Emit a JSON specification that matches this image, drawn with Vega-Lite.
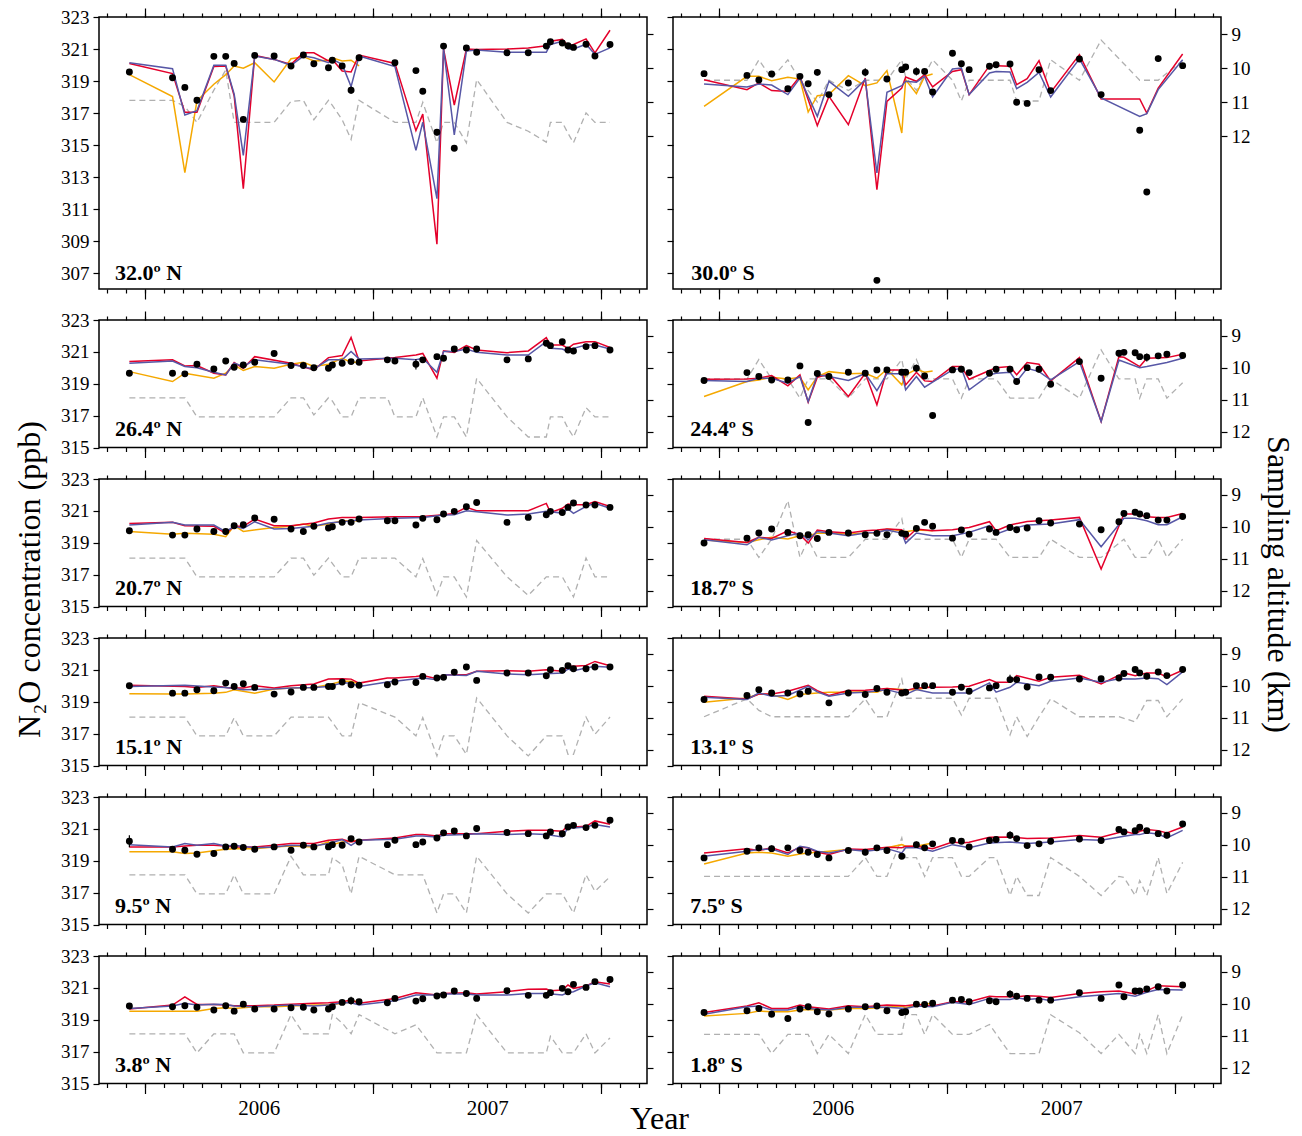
{
"$schema":"https://vega.github.io/schema/vega-lite/v6.json",
"padding":{"left":12,"top":6,"right":4,"bottom":2},
"columns":2,
"spacing":{"row":31,"column":26},
"bounds":"flush",
"config":{"view":{"stroke":"black","strokeWidth":1.5},"axis":{"labelFont":"Liberation Serif","labelFontSize":19,"labelColor":"black","tickColor":"black","tickWidth":1.2,"titleFont":"Liberation Serif","titleFontSize":32,"titleFontWeight":"normal","titleColor":"black"}},
"datasets":{
"n32":[
{"t":2005.933,"o":319.56,"b":320.14,"r":320.1,"g":319.4,"a":10.95},
{"t":2006.122,"o":319.2,"b":319.77,"r":319.46,"g":318.03,"a":10.95},
{"t":2006.176,"o":318.6,"b":316.87,"r":317.04,"g":313.27,"a":11.13},
{"t":2006.229,"o":317.8,"lo":317.6,"hi":318.0,"b":317.14,"r":317.04,"g":317.76,"a":11.6},
{"t":2006.303,"o":320.54,"b":319.98,"r":319.9,"g":318.8,"a":10.65},
{"t":2006.355,"o":320.54,"b":319.98,"r":319.94,"g":319.4,"a":10.06},
{"t":2006.392,"o":320.1,"b":318.18,"r":318.07,"g":319.94,"a":11.6},
{"t":2006.432,"o":316.6,"lo":316.4,"hi":316.8,"b":314.35,"r":312.27,"g":319.8,"a":11.6},
{"t":2006.482,"o":320.6,"b":320.56,"r":320.6,"g":320.14,"a":11.6},
{"t":2006.567,"o":320.56,"b":320.35,"r":320.35,"g":318.94,"a":11.6},
{"t":2006.641,"o":319.94,"b":319.98,"r":320.04,"g":320.39,"a":10.98},
{"t":2006.695,"o":320.62,"b":320.56,"r":320.76,"g":320.52,"a":10.95},
{"t":2006.741,"o":320.08,"b":320.45,"r":320.76,"g":320.25,"a":11.52},
{"t":2006.805,"o":319.83,"b":320.14,"r":320.25,"g":320.3,"a":10.95},
{"t":2006.822,"o":320.3,"b":320.35,"r":320.35,"g":320.45,"a":11.1},
{"t":2006.865,"o":319.94,"b":320.04,"r":319.63,"g":320.25,"a":11.52},
{"t":2006.904,"o":318.42,"lo":318.2,"hi":318.65,"b":318.65,"r":319.56,"g":320.3,"a":12.1},
{"t":2006.939,"o":320.45,"b":320.56,"r":320.62,"g":319.94,"a":10.95},
{"t":2007.096,"o":320.14,"b":319.9,"r":320.1,"a":11.6},
{"t":2007.188,"o":319.65,"b":314.66,"r":315.9,"a":11.6},
{"t":2007.218,"o":318.36,"b":316.42,"r":316.93,"a":11.01},
{"t":2007.28,"o":315.8,"lo":315.6,"hi":316.0,"b":311.65,"r":308.8,"a":12.2},
{"t":2007.309,"o":321.18,"b":321.0,"r":321.0,"a":11.6},
{"t":2007.356,"o":314.8,"b":315.63,"r":317.5,"a":11.6},
{"t":2007.409,"o":321.07,"b":320.87,"r":321.0,"a":12.2},
{"t":2007.454,"o":320.8,"lo":320.65,"hi":320.95,"b":320.93,"r":320.97,"a":10.34},
{"t":2007.587,"o":320.76,"b":320.8,"r":321.0,"a":11.6},
{"t":2007.68,"o":320.76,"b":320.8,"r":321.07,"a":11.86},
{"t":2007.759,"o":321.18,"b":320.8,"r":321.2,"a":12.18},
{"t":2007.777,"o":321.45,"b":321.28,"r":321.49,"a":11.6},
{"t":2007.829,"o":321.38,"b":321.49,"r":321.6,"a":11.6},
{"t":2007.854,"o":321.2,"b":321.0,"r":321.2,"a":11.92},
{"t":2007.878,"o":321.1,"b":321.0,"r":321.28,"a":12.2},
{"t":2007.933,"o":321.3,"b":321.3,"r":321.63,"a":11.32},
{"t":2007.972,"o":320.56,"b":320.66,"r":320.76,"a":11.6},
{"t":2008.038,"o":321.28,"b":321.07,"r":322.17,"a":11.6}
],
"s30":[
{"t":2005.936,"o":319.46,"b":318.81,"r":319.08,"g":317.42,"a":10.36},
{"t":2006.124,"o":319.35,"b":318.63,"r":318.46,"g":319.29,"a":10.36},
{"t":2006.176,"o":319.06,"b":318.81,"r":318.88,"g":319.29,"a":9.76},
{"t":2006.232,"o":319.44,"b":318.75,"r":318.4,"g":319.02,"a":10.31},
{"t":2006.303,"o":318.52,"b":318.15,"r":318.35,"g":319.23,"a":9.76},
{"t":2006.356,"o":319.29,"b":319.19,"r":319.29,"g":319.12,"a":10.36},
{"t":2006.392,"o":318.83,"g":317.06},
{"t":2006.432,"o":319.54,"lo":319.35,"hi":319.75,"b":316.79,"r":316.21,"g":318.08,"a":11.0},
{"t":2006.483,"o":318.15,"b":318.98,"r":318.04,"g":318.15,"a":10.36},
{"t":2006.568,"o":318.88,"b":318.04,"r":316.27,"g":319.33,"a":10.66},
{"t":2006.642,"o":319.54,"lo":319.3,"hi":319.8,"b":319.08,"r":319.19,"g":318.71,"a":10.36},
{"t":2006.693,"o":306.54,"b":313.25,"r":312.21,"g":318.88,"a":10.36},
{"t":2006.737,"o":319.12,"b":318.29,"r":317.73,"g":319.65,"a":10.36},
{"t":2006.802,"o":319.71,"b":318.71,"r":318.56,"g":315.75,"a":9.76},
{"t":2006.819,"o":319.88,"b":318.98,"r":319.25,"g":319.08,"a":10.27},
{"t":2006.866,"o":319.6,"lo":319.35,"hi":319.85,"b":318.92,"r":318.98,"g":318.21,"a":10.66},
{"t":2006.902,"o":319.6,"b":319.29,"r":319.4,"g":319.29},
{"t":2006.937,"o":318.31,"b":318.0,"r":318.63,"g":319.44,"a":9.76},
{"t":2007.024,"o":320.73,"b":319.75,"r":319.6,"a":10.36},
{"t":2007.063,"o":320.08,"b":319.81,"r":319.71,"a":10.97},
{"t":2007.097,"o":319.71,"b":318.15,"r":318.15,"a":10.36},
{"t":2007.186,"o":319.92,"b":319.5,"r":319.96,"a":10.36},
{"t":2007.215,"o":320.02,"b":319.6,"r":319.96,"a":10.36},
{"t":2007.276,"o":320.06,"b":319.56,"r":319.92,"a":10.36},
{"t":2007.305,"o":317.67,"b":318.52,"r":318.77,"a":10.97},
{"t":2007.351,"o":317.6,"b":318.92,"r":319.15,"a":10.97},
{"t":2007.403,"o":319.71,"b":319.54,"r":320.27,"a":10.97},
{"t":2007.454,"o":318.4,"b":318.0,"r":318.29,"a":9.76},
{"t":2007.58,"o":320.38,"b":320.38,"r":320.65,"a":10.36},
{"t":2007.675,"o":318.15,"b":317.94,"r":317.88,"a":9.18},
{"t":2007.844,"o":315.92,"lo":315.75,"hi":316.1,"b":316.79,"r":317.88,"a":10.36},
{"t":2007.875,"o":312.06,"b":316.96,"r":317.0},
{"t":2007.925,"o":320.4,"lo":320.2,"hi":320.6,"b":318.46,"r":318.56,"a":10.36},
{"t":2008.032,"o":319.96,"b":320.33,"r":320.69,"a":9.78}
],
"n26":[
{"t":2005.933,"o":319.66,"b":320.29,"r":320.39,"g":319.76,"a":10.94},
{"t":2006.122,"o":319.66,"b":320.43,"r":320.5,"g":319.14,"a":10.94},
{"t":2006.176,"o":319.62,"b":320.08,"r":320.12,"g":319.66,"a":10.94},
{"t":2006.229,"o":320.22,"b":320.0,"r":320.14,"a":11.54},
{"t":2006.303,"o":319.93,"b":319.72,"r":319.66,"g":319.35,"a":11.54},
{"t":2006.355,"o":320.43,"b":319.55,"r":319.55,"g":319.66,"a":11.54},
{"t":2006.392,"o":320.03,"b":320.29,"r":320.33,"g":320.18,"a":11.54},
{"t":2006.432,"o":320.18,"b":320.08,"r":319.97,"g":319.83,"a":11.54},
{"t":2006.482,"o":320.35,"b":320.5,"r":320.7,"g":320.08,"a":11.54},
{"t":2006.567,"o":320.9,"g":319.97,"a":11.54},
{"t":2006.641,"o":320.14,"b":320.22,"r":320.29,"g":320.22,"a":10.94},
{"t":2006.695,"o":320.14,"g":320.35,"a":10.94},
{"t":2006.741,"o":320.0,"b":319.93,"r":319.87,"g":320.08,"a":11.48},
{"t":2006.805,"o":319.97,"b":320.5,"r":320.64,"g":320.22,"a":10.94},
{"t":2006.822,"o":320.18,"a":11.04},
{"t":2006.865,"o":320.29,"b":320.5,"r":320.77,"g":320.6,"a":11.54},
{"t":2006.904,"o":320.39,"b":321.02,"r":321.91,"g":320.35,"a":11.54},
{"t":2006.939,"o":320.35,"b":320.56,"r":320.43,"g":320.35,"a":10.94},
{"t":2007.063,"o":320.5,"a":10.94},
{"t":2007.096,"o":320.43,"b":320.6,"r":320.64,"a":11.54},
{"t":2007.188,"o":320.22,"lo":319.9,"hi":320.55,"b":320.5,"r":320.8,"a":11.54},
{"t":2007.218,"o":320.5,"b":320.6,"r":320.9,"a":10.94},
{"t":2007.28,"o":320.7,"b":319.72,"r":319.35,"a":12.17},
{"t":2007.309,"o":320.6,"b":321.02,"r":321.06,"a":11.54},
{"t":2007.356,"o":321.18,"b":321.02,"r":320.97,"a":11.54},
{"t":2007.409,"o":321.12,"b":321.18,"r":321.39,"a":12.17},
{"t":2007.454,"o":321.18,"b":320.97,"r":321.12,"a":10.33},
{"t":2007.587,"o":320.5,"b":320.8,"r":320.95,"a":11.54},
{"t":2007.68,"o":320.56,"b":320.8,"r":321.06,"a":12.17},
{"t":2007.759,"o":321.54,"b":321.64,"r":321.89,"a":12.17},
{"t":2007.777,"o":321.39,"b":321.22,"r":321.43,"a":11.54},
{"t":2007.829,"o":321.64,"b":321.18,"r":321.43,"a":11.54},
{"t":2007.854,"o":321.12,"b":321.02,"r":321.22,"a":11.9},
{"t":2007.878,"o":321.06,"b":321.22,"r":321.48,"a":12.17},
{"t":2007.933,"o":321.33,"b":321.43,"r":321.64,"a":11.25},
{"t":2007.972,"o":321.39,"b":321.43,"r":321.64,"a":11.54},
{"t":2008.038,"o":321.12,"b":321.18,"r":321.27,"a":11.54}
],
"s24":[
{"t":2005.936,"o":319.2,"b":319.2,"r":319.28,"g":318.2,"a":10.35},
{"t":2006.124,"o":319.7,"b":319.14,"r":319.3,"g":319.14,"a":10.35},
{"t":2006.176,"o":319.45,"b":319.35,"r":319.35,"g":319.24,"a":9.74},
{"t":2006.232,"o":319.24,"b":319.35,"r":319.51,"g":319.41,"a":10.35},
{"t":2006.303,"o":319.24,"b":319.03,"r":318.87,"g":319.3,"a":10.35},
{"t":2006.356,"o":320.12,"b":319.45,"r":319.56,"g":319.41,"a":10.95},
{"t":2006.392,"o":316.57,"b":317.88,"r":317.84,"g":318.62,"a":10.35},
{"t":2006.432,"o":319.64,"b":319.56,"r":319.41,"g":319.45,"a":10.35},
{"t":2006.483,"o":319.45,"b":319.45,"r":319.6,"g":319.76,"a":10.35},
{"t":2006.568,"o":319.72,"b":319.2,"r":318.2,"g":319.62,"a":10.95},
{"t":2006.642,"o":319.66,"b":319.64,"r":319.66,"g":319.66,"a":10.35},
{"t":2006.693,"o":319.87,"b":318.57,"r":317.68,"g":319.35,"a":10.35},
{"t":2006.737,"o":319.87,"b":319.62,"r":319.87,"g":319.91,"a":10.35},
{"t":2006.802,"o":319.72,"b":319.62,"r":319.87,"g":318.93,"a":9.74},
{"t":2006.819,"o":319.72,"b":318.62,"r":318.93,"g":319.56,"a":10.35},
{"t":2006.866,"o":319.97,"lo":319.75,"hi":320.2,"b":319.45,"r":319.72,"g":319.91,"a":9.74},
{"t":2006.902,"o":319.49,"b":318.78,"r":319.18,"g":319.72,"a":10.35},
{"t":2006.937,"o":317.01,"b":319.1,"r":319.14,"g":319.8,"a":10.35},
{"t":2007.024,"o":319.87,"b":319.87,"r":320.08,"a":10.35},
{"t":2007.063,"o":319.91,"b":319.97,"r":320.08,"a":10.95},
{"t":2007.097,"o":319.7,"b":318.62,"r":319.28,"a":10.35},
{"t":2007.186,"o":319.66,"b":319.56,"r":319.83,"a":10.35},
{"t":2007.215,"o":319.91,"b":319.66,"r":320.01,"a":10.35},
{"t":2007.276,"o":319.91,"b":319.72,"r":320.08,"a":10.95},
{"t":2007.305,"o":319.14,"b":319.14,"r":319.56,"a":10.95},
{"t":2007.351,"o":320.01,"b":319.97,"r":320.33,"a":10.95},
{"t":2007.403,"o":319.91,"lo":319.7,"hi":320.1,"b":319.76,"r":320.22,"a":10.95},
{"t":2007.454,"o":318.97,"b":319.24,"r":319.18,"a":10.35},
{"t":2007.58,"o":320.39,"b":320.39,"r":320.64,"a":10.95},
{"t":2007.675,"o":319.35,"lo":319.15,"hi":319.55,"b":316.63,"r":316.63,"a":9.44},
{"t":2007.753,"o":320.91,"lo":320.7,"hi":321.1,"b":320.49,"r":320.7,"a":10.35},
{"t":2007.775,"o":320.97,"r":320.66},
{"t":2007.824,"o":320.95,"a":10.35},
{"t":2007.844,"o":320.7,"b":320.01,"r":320.08,"a":10.95},
{"t":2007.875,"o":320.66,"lo":320.4,"hi":320.9,"b":320.08,"r":320.6,"a":10.35},
{"t":2007.925,"o":320.75,"a":10.35},
{"t":2007.963,"o":320.85,"b":320.33,"r":320.64,"a":10.95},
{"t":2008.032,"o":320.77,"b":320.6,"r":320.85,"a":10.47}
],
"n20":[
{"t":2005.933,"o":319.75,"b":320.11,"r":320.21,"g":319.71,"a":10.98},
{"t":2006.122,"o":319.48,"b":320.28,"r":320.28,"g":319.54,"a":10.98},
{"t":2006.176,"o":319.48,"b":320.11,"r":320.07,"g":319.59,"a":10.98},
{"t":2006.229,"o":319.86,"a":11.57},
{"t":2006.303,"o":319.71,"b":320.11,"r":320.03,"g":319.54,"a":11.57},
{"t":2006.355,"o":319.71,"b":319.69,"r":319.59,"g":319.38,"a":11.57},
{"t":2006.392,"o":320.07,"b":320.03,"r":320.03,"g":320.07,"a":11.57},
{"t":2006.432,"o":320.13,"b":319.9,"r":320.03,"g":319.71,"a":11.57},
{"t":2006.482,"o":320.55,"b":320.32,"r":320.49,"a":11.57},
{"t":2006.567,"o":320.47,"b":319.86,"r":320.07,"g":319.96,"a":11.57},
{"t":2006.641,"o":319.86,"b":319.9,"r":320.07,"g":320.03,"a":10.98},
{"t":2006.695,"o":319.71,"g":320.17,"a":10.98},
{"t":2006.741,"o":320.03,"b":320.03,"r":320.24,"g":320.03,"a":11.52},
{"t":2006.805,"o":319.92,"b":320.24,"r":320.49,"g":320.17,"a":10.98},
{"t":2006.822,"o":320.0},
{"t":2006.865,"o":320.28,"b":320.32,"r":320.59,"g":320.38,"a":11.57},
{"t":2006.904,"o":320.28,"a":11.57},
{"t":2006.939,"o":320.49,"b":320.42,"r":320.59,"g":320.38,"a":10.98},
{"t":2007.063,"o":320.38,"a":10.98},
{"t":2007.096,"o":320.38,"b":320.53,"r":320.63,"a":10.98},
{"t":2007.188,"o":320.11,"a":11.57},
{"t":2007.218,"o":320.53,"b":320.59,"r":320.65,"a":11.0},
{"t":2007.28,"o":320.44,"a":12.15},
{"t":2007.309,"o":320.8,"b":320.74,"r":320.76,"a":11.57},
{"t":2007.356,"o":320.97,"b":320.76,"r":320.84,"a":11.57},
{"t":2007.409,"o":321.26,"b":321.01,"r":321.22,"a":12.2},
{"t":2007.454,"o":321.53,"b":320.95,"r":321.01,"a":10.43},
{"t":2007.587,"o":320.28,"b":320.74,"r":321.01,"a":11.57},
{"t":2007.68,"o":320.59,"b":320.8,"r":321.01,"a":12.15},
{"t":2007.759,"o":320.76,"b":320.97,"r":321.47,"a":11.57},
{"t":2007.777,"o":320.97,"r":320.9},
{"t":2007.829,"o":320.9,"b":320.86,"r":321.16,"a":11.57},
{"t":2007.854,"o":321.22,"b":321.12,"r":321.43},
{"t":2007.878,"o":321.49,"b":320.84,"r":321.39,"a":12.2},
{"t":2007.933,"o":321.37,"b":321.28,"r":321.39,"a":10.98},
{"t":2007.972,"o":321.37,"b":321.47,"r":321.58,"a":11.57},
{"t":2008.038,"o":321.22,"b":321.16,"r":321.28,"a":11.57}
],
"s18":[
{"t":2005.936,"o":318.98,"b":319.19,"r":319.27,"g":319.17,"a":10.39},
{"t":2006.124,"o":319.29,"b":318.87,"r":319.02,"g":319.02,"a":10.39},
{"t":2006.176,"o":319.61,"b":319.34,"r":319.34,"g":319.19,"a":10.96},
{"t":2006.232,"o":319.86,"b":319.17,"r":319.27,"g":319.34,"a":10.39},
{"t":2006.303,"o":319.65,"b":319.44,"r":319.75,"g":319.23,"a":9.18},
{"t":2006.356,"o":319.44,"b":319.61,"r":319.5,"g":319.44,"a":10.96},
{"t":2006.392,"o":319.5,"b":319.19,"r":318.98,"g":319.44,"a":10.39},
{"t":2006.432,"o":319.27,"b":319.71,"r":319.8,"g":319.59,"a":10.96},
{"t":2006.483,"o":319.65,"b":319.61,"r":319.69,"g":319.61,"a":10.96},
{"t":2006.568,"o":319.61,"b":319.44,"r":319.61,"g":319.54,"a":10.96},
{"t":2006.642,"o":319.5,"lo":319.35,"hi":319.65,"b":319.61,"r":319.75,"g":319.61,"a":10.39},
{"t":2006.693,"o":319.59,"lo":319.45,"hi":319.75,"b":319.65,"r":319.8,"g":319.61,"a":10.39},
{"t":2006.737,"o":319.5,"b":319.8,"r":319.86,"g":319.86,"a":10.39},
{"t":2006.802,"o":319.59,"b":319.61,"r":319.82,"g":319.75,"a":9.74},
{"t":2006.819,"o":319.54,"b":318.98,"r":319.23,"g":319.69,"a":10.39},
{"t":2006.866,"o":319.9,"lo":319.7,"hi":320.1,"b":319.61,"r":319.86,"g":319.8,"a":10.39},
{"t":2006.902,"o":320.28},
{"t":2006.937,"o":320.03,"b":319.44,"r":319.75,"g":319.75,"a":10.39},
{"t":2007.024,"o":319.29,"b":319.44,"r":319.82,"a":10.39},
{"t":2007.063,"o":319.8,"a":10.96},
{"t":2007.097,"o":319.54,"b":319.65,"r":319.96,"a":10.39},
{"t":2007.186,"o":319.86,"b":320.07,"r":320.32,"a":10.39},
{"t":2007.215,"o":319.65,"b":319.54,"r":319.75,"a":10.39},
{"t":2007.276,"o":319.96,"b":319.86,"r":320.11,"a":10.96},
{"t":2007.305,"o":319.82},
{"t":2007.351,"o":319.92,"b":320.11,"r":320.34,"a":10.96},
{"t":2007.403,"o":320.38,"a":10.96},
{"t":2007.454,"o":320.24,"b":320.17,"r":320.42,"a":10.39},
{"t":2007.58,"o":320.17,"b":320.45,"r":320.59,"a":10.96},
{"t":2007.675,"o":319.82,"b":318.75,"r":317.35,"a":10.96},
{"t":2007.753,"o":320.32},
{"t":2007.775,"o":320.84,"b":320.53,"r":320.8,"a":10.39},
{"t":2007.824,"o":320.91,"b":320.53,"r":320.8,"a":10.96},
{"t":2007.844,"o":320.8},
{"t":2007.875,"o":320.7,"b":320.38,"r":320.63,"a":10.96},
{"t":2007.925,"o":320.42,"b":320.13,"r":320.59,"a":10.39},
{"t":2007.963,"o":320.42,"b":320.13,"r":320.59,"a":10.96},
{"t":2008.032,"o":320.65,"b":320.63,"r":320.84,"a":10.39}
],
"n15":[
{"t":2005.933,"o":320.0,"b":319.96,"r":320.03,"g":319.5,"a":10.98},
{"t":2006.122,"o":319.54,"g":319.48,"a":10.98},
{"t":2006.176,"o":319.54,"b":320.03,"r":319.96,"g":319.48,"a":10.98},
{"t":2006.229,"o":319.75,"r":319.9,"a":11.57},
{"t":2006.303,"o":319.69,"b":319.92,"r":320.0,"g":319.54,"a":11.57},
{"t":2006.355,"o":320.17,"b":319.9,"r":319.9,"g":319.59,"a":11.57},
{"t":2006.392,"o":319.96,"r":319.86,"g":319.75,"a":11.0},
{"t":2006.432,"o":320.13,"b":319.75,"r":319.86,"a":11.57},
{"t":2006.482,"o":319.9,"r":320.0,"g":319.54,"a":11.57},
{"t":2006.567,"o":319.48,"b":319.8,"r":319.86,"g":319.8,"a":11.57},
{"t":2006.641,"o":319.61,"b":319.86,"r":320.0,"g":319.86,"a":10.98},
{"t":2006.695,"o":319.9,"a":10.98},
{"t":2006.741,"o":319.9,"b":319.9,"r":320.11,"g":319.9,"a":10.98},
{"t":2006.805,"o":319.96,"b":319.96,"r":320.42,"g":320.07,"a":10.98},
{"t":2006.822,"o":319.96},
{"t":2006.865,"o":320.24,"b":320.17,"r":320.44,"g":320.28,"a":11.57},
{"t":2006.904,"o":320.07,"b":320.17,"r":320.42,"g":320.28,"a":11.57},
{"t":2006.939,"o":320.03,"b":319.96,"r":320.17,"g":320.11,"a":10.53},
{"t":2007.063,"o":320.07,"b":320.24,"r":320.49},
{"t":2007.096,"o":320.24,"b":320.28,"r":320.49,"a":10.98},
{"t":2007.188,"o":320.21,"b":320.44,"r":320.59,"a":11.57},
{"t":2007.218,"o":320.59,"b":320.49,"r":320.65,"a":11.0},
{"t":2007.28,"o":320.49,"b":320.38,"r":320.44,"a":12.2},
{"t":2007.309,"o":320.53,"b":320.7,"r":320.7,"a":11.57},
{"t":2007.356,"o":320.86,"a":11.57},
{"t":2007.409,"o":321.18,"b":320.65,"r":320.7,"a":12.15},
{"t":2007.454,"o":320.34,"lo":320.2,"hi":320.5,"b":320.91,"r":320.91,"a":10.38},
{"t":2007.587,"o":320.8,"b":320.74,"r":320.95,"a":11.57},
{"t":2007.68,"o":320.8,"b":320.7,"r":320.91,"a":12.2},
{"t":2007.759,"o":320.63,"b":320.76,"r":321.01,"a":11.57},
{"t":2007.777,"o":321.01},
{"t":2007.829,"o":320.97,"b":320.8,"r":320.91,"a":11.57},
{"t":2007.854,"o":321.26,"b":321.05,"r":321.22,"a":12.15},
{"t":2007.878,"o":321.07,"b":320.95,"r":321.22,"a":12.15},
{"t":2007.933,"o":321.07,"b":321.12,"r":321.28,"a":10.98},
{"t":2007.972,"o":321.18,"b":321.22,"r":321.53,"a":11.52},
{"t":2008.038,"o":321.18,"b":321.16,"r":321.26,"a":10.98}
],
"s13":[
{"t":2005.936,"o":319.14,"b":319.28,"r":319.35,"g":318.97,"a":10.97},
{"t":2006.124,"o":319.39,"b":319.14,"r":319.18,"g":319.24,"a":10.41},
{"t":2006.176,"o":319.76,"b":319.55,"r":319.49,"g":319.49,"a":10.77},
{"t":2006.232,"o":319.55,"b":319.35,"r":319.49,"g":319.45,"a":10.97},
{"t":2006.303,"o":319.55,"b":319.39,"r":319.66,"g":319.14,"a":10.97},
{"t":2006.356,"o":319.49,"g":319.45},
{"t":2006.392,"o":319.66,"b":319.97,"r":320.03,"a":10.97},
{"t":2006.432,"b":319.62,"r":319.7,"g":319.55},
{"t":2006.483,"o":318.93,"b":319.35,"r":319.39,"g":319.6,"a":10.97},
{"t":2006.568,"o":319.55,"b":319.55,"r":319.7,"g":319.6,"a":10.97},
{"t":2006.642,"o":319.45,"b":319.6,"r":319.72,"g":319.62,"a":10.41},
{"t":2006.693,"o":319.83,"g":319.6,"a":10.97},
{"t":2006.737,"o":319.6,"b":319.76,"r":319.83,"g":319.83,"a":10.97},
{"t":2006.802,"o":319.55,"a":9.79},
{"t":2006.819,"o":319.6,"b":319.45,"r":319.7,"g":319.76,"a":10.39},
{"t":2006.866,"o":320.01,"b":319.76,"r":319.87,"g":319.76,"a":10.39},
{"t":2006.902,"o":320.01},
{"t":2006.937,"o":320.01,"b":319.55,"r":319.91,"g":319.97,"a":10.39},
{"t":2007.024,"o":319.6,"b":319.55,"r":319.93,"a":10.39},
{"t":2007.063,"o":319.91,"b":319.55,"a":10.92},
{"t":2007.097,"o":319.66,"b":319.55,"r":319.97,"a":10.39},
{"t":2007.186,"o":319.87,"b":320.18,"r":320.39,"a":10.39},
{"t":2007.215,"o":320.01,"b":319.6,"r":320.22,"a":10.39},
{"t":2007.276,"o":320.39,"lo":320.2,"hi":320.7,"b":319.91,"r":320.22,"a":11.54},
{"t":2007.305,"o":320.39,"b":320.22,"r":320.64,"a":10.97},
{"t":2007.351,"o":319.93,"a":11.59},
{"t":2007.403,"o":320.56,"b":320.01,"r":320.29,"a":10.97},
{"t":2007.454,"o":320.54,"b":320.29,"r":320.54,"a":10.41},
{"t":2007.58,"o":320.43,"b":320.49,"r":320.66,"a":10.97},
{"t":2007.675,"o":320.45,"b":320.22,"r":320.12,"a":10.97},
{"t":2007.753,"o":320.49,"b":320.45,"a":10.97},
{"t":2007.775,"o":320.77,"r":320.81},
{"t":2007.824,"o":321.02,"b":320.43,"r":320.64,"a":11.13},
{"t":2007.844,"o":320.81},
{"t":2007.875,"o":320.6,"b":320.49,"r":320.81,"a":10.46},
{"t":2007.925,"o":320.87,"b":320.45,"r":320.81,"a":10.46},
{"t":2007.963,"o":320.64,"b":320.08,"r":320.54,"a":10.97},
{"t":2008.032,"o":321.02,"b":320.87,"r":320.98,"a":10.41}
],
"n9":[
{"t":2005.933,"o":320.22,"lo":319.85,"hi":320.6,"b":320.01,"r":319.87,"g":319.56,"a":10.94},
{"t":2006.122,"o":319.72,"b":319.87,"r":319.87,"g":319.56,"a":10.94},
{"t":2006.176,"o":319.66,"lo":319.45,"hi":319.85,"b":320.08,"r":319.93,"g":319.45,"a":10.94},
{"t":2006.229,"o":319.41,"lo":319.25,"hi":319.6,"b":319.97,"r":319.97,"g":319.49,"a":11.54},
{"t":2006.303,"o":319.45,"b":320.08,"r":319.97,"g":319.62,"a":11.54},
{"t":2006.355,"o":319.87,"b":319.93,"r":319.93,"g":319.72,"a":11.54},
{"t":2006.392,"o":319.91,"b":319.97,"r":319.87,"g":319.76,"a":10.94},
{"t":2006.432,"o":319.83,"r":319.87,"a":11.54},
{"t":2006.482,"o":319.72,"b":319.81,"r":319.87,"g":319.76,"a":11.54},
{"t":2006.567,"o":319.87,"b":319.87,"r":319.97,"g":319.87,"a":11.54},
{"t":2006.641,"o":319.66,"b":319.97,"r":320.08,"g":319.93,"a":10.36},
{"t":2006.695,"o":319.97,"a":10.94},
{"t":2006.741,"o":319.87,"b":319.93,"r":320.08,"g":319.87,"a":10.94},
{"t":2006.805,"o":319.87,"b":320.08,"r":320.29,"g":320.18,"a":10.94},
{"t":2006.822,"o":320.01,"g":320.01,"a":10.4},
{"t":2006.865,"o":319.97,"lo":319.8,"hi":320.15,"b":320.33,"r":320.35,"g":320.18,"a":10.63},
{"t":2006.904,"o":320.39,"b":319.97,"r":320.18,"g":320.22,"a":11.54},
{"t":2006.939,"o":320.18,"b":320.29,"r":320.29,"g":320.29,"a":10.36},
{"t":2007.063,"o":320.01},
{"t":2007.096,"o":320.29,"b":320.35,"r":320.43,"a":10.94},
{"t":2007.188,"o":320.01,"b":320.56,"r":320.64,"a":10.94},
{"t":2007.218,"o":320.18,"b":320.56,"r":320.64,"a":10.94},
{"t":2007.28,"o":320.43,"b":320.49,"r":320.56,"a":12.14},
{"t":2007.309,"o":320.75,"b":320.6,"r":320.7,"a":11.54},
{"t":2007.356,"o":320.87,"a":11.54},
{"t":2007.409,"o":320.56,"b":320.64,"r":320.7,"a":12.14},
{"t":2007.454,"o":321.02,"b":320.7,"r":320.7,"a":10.36},
{"t":2007.587,"o":320.77,"b":320.64,"r":320.85,"a":11.54},
{"t":2007.68,"o":320.7,"b":320.7,"r":320.91,"a":12.14},
{"t":2007.759,"o":320.56,"b":320.64,"r":320.91,"a":11.54},
{"t":2007.777,"o":320.81},
{"t":2007.829,"o":320.7,"b":320.49,"r":320.85,"a":11.54},
{"t":2007.854,"o":321.12,"b":321.06,"r":321.22},
{"t":2007.878,"o":321.22,"b":321.06,"r":321.12,"a":12.14},
{"t":2007.933,"o":321.08,"lo":320.9,"hi":321.2,"b":321.12,"r":321.16,"a":10.94},
{"t":2007.972,"o":321.22,"b":321.27,"r":321.5,"a":11.46},
{"t":2008.038,"o":321.54,"b":321.12,"r":321.29,"a":11.0}
],
"s7":[
{"t":2005.936,"o":319.18,"b":319.28,"r":319.49,"g":318.8,"a":10.99},
{"t":2006.124,"o":319.6,"b":319.6,"r":319.76,"g":319.49,"a":10.99},
{"t":2006.176,"o":319.81,"b":319.7,"r":319.64,"g":319.53},
{"t":2006.232,"o":319.76,"lo":319.6,"hi":319.95,"b":319.74,"r":319.81,"g":319.49},
{"t":2006.303,"o":319.81,"b":319.39,"r":319.49,"g":319.28,"a":10.99},
{"t":2006.356,"o":319.64,"b":319.91,"r":319.85,"g":319.43},
{"t":2006.392,"o":319.53,"b":319.81,"r":319.81,"g":319.49},
{"t":2006.432,"o":319.39,"b":319.6,"r":319.53,"g":319.53},
{"t":2006.483,"o":319.18,"b":319.49,"r":319.39,"g":319.6,"a":10.99},
{"t":2006.568,"o":319.64,"b":319.7,"r":319.74,"g":319.7,"a":10.99},
{"t":2006.642,"o":319.53,"lo":319.35,"hi":319.7,"b":319.6,"r":319.7,"g":319.64,"a":10.4},
{"t":2006.693,"o":319.81,"g":319.7,"a":10.99},
{"t":2006.737,"o":319.64,"b":319.76,"r":319.85,"g":319.81,"a":10.99},
{"t":2006.802,"o":319.28,"b":319.49,"r":319.81,"g":320.01,"a":9.78},
{"t":2006.819,"b":319.81,"r":319.91,"g":319.91,"a":10.4},
{"t":2006.866,"o":320.01,"lo":319.85,"hi":320.2,"b":319.81,"r":319.91,"g":319.91,"a":10.4},
{"t":2006.902,"o":319.81,"a":10.99},
{"t":2006.937,"o":320.06,"b":319.6,"r":319.76,"g":320.12,"a":10.4},
{"t":2007.024,"o":320.27,"b":320.01,"r":320.18,"a":10.4},
{"t":2007.063,"o":320.22,"b":319.91,"r":320.12,"a":10.99},
{"t":2007.097,"o":319.87,"b":319.81,"r":320.16,"a":10.99},
{"t":2007.186,"o":320.27,"b":320.12,"r":320.47,"a":10.4},
{"t":2007.215,"o":320.33,"a":10.4},
{"t":2007.276,"o":320.6,"lo":320.4,"hi":320.85,"b":320.18,"r":320.49,"a":11.59},
{"t":2007.305,"o":320.39,"a":10.99},
{"t":2007.351,"o":319.95,"b":320.08,"r":320.39,"a":11.59},
{"t":2007.403,"o":320.06,"a":11.59},
{"t":2007.454,"o":320.22,"b":320.18,"r":320.43,"a":10.4},
{"t":2007.58,"o":320.37,"b":320.33,"r":320.58,"a":10.99},
{"t":2007.675,"o":320.27,"b":320.29,"r":320.47,"a":11.59},
{"t":2007.753,"o":320.96,"a":10.99},
{"t":2007.775,"o":320.81,"b":320.54,"r":320.85,"a":11.02},
{"t":2007.824,"o":320.89,"b":320.64,"r":320.68,"a":11.59},
{"t":2007.844,"o":321.1,"b":320.64,"r":320.85,"a":11.12},
{"t":2007.875,"o":320.89,"b":320.75,"r":320.96,"a":11.59},
{"t":2007.925,"o":320.7,"b":320.68,"r":320.89,"a":10.4},
{"t":2007.963,"o":320.6,"b":320.43,"r":320.75,"a":11.53},
{"t":2008.032,"o":321.31,"b":320.91,"r":321.12,"a":10.55}
],
"n3":[
{"t":2005.933,"o":319.86,"b":319.71,"r":319.67,"g":319.54,"a":10.94},
{"t":2006.122,"o":319.82,"b":319.86,"r":319.92,"g":319.54,"a":10.94},
{"t":2006.176,"o":319.88,"b":320.03,"r":320.44,"a":10.94},
{"t":2006.229,"o":319.78,"b":319.92,"r":319.96,"g":319.54,"a":11.54},
{"t":2006.303,"o":319.61,"b":319.98,"r":319.96,"g":319.71,"a":10.94},
{"t":2006.355,"o":319.88,"b":319.96,"r":319.92,"g":319.75,"a":10.94},
{"t":2006.392,"o":319.54,"b":319.86,"r":319.88,"g":319.71,"a":10.94},
{"t":2006.432,"o":319.98,"a":11.54},
{"t":2006.482,"o":319.67,"b":319.82,"r":319.88,"g":319.82,"a":11.54},
{"t":2006.567,"o":319.67,"b":319.88,"r":319.92,"g":319.82,"a":11.54},
{"t":2006.641,"o":319.75,"b":319.92,"r":319.98,"g":319.86,"a":10.34},
{"t":2006.695,"o":319.78,"a":10.94},
{"t":2006.741,"o":319.61,"b":319.86,"r":320.03,"g":319.92,"a":10.94},
{"t":2006.805,"o":319.67,"b":319.92,"r":320.07,"g":319.92,"a":10.94},
{"t":2006.822,"o":319.82,"a":10.34},
{"t":2006.865,"o":320.09,"b":320.07,"r":320.13,"g":320.03,"a":10.6},
{"t":2006.904,"o":320.19,"lo":319.95,"hi":320.45,"b":320.07,"r":320.24,"g":320.13,"a":10.94},
{"t":2006.939,"o":320.13,"b":319.92,"r":320.03,"g":320.19,"a":10.34},
{"t":2007.063,"o":320.07},
{"t":2007.096,"o":320.34,"b":320.19,"r":320.34,"a":10.94},
{"t":2007.188,"o":320.17,"b":320.55,"r":320.7,"a":10.66},
{"t":2007.218,"o":320.32,"b":320.55,"r":320.65,"a":10.94},
{"t":2007.28,"o":320.49,"b":320.55,"r":320.55,"a":11.54},
{"t":2007.309,"o":320.55,"b":320.61,"r":320.65,"a":11.54},
{"t":2007.356,"o":320.8,"a":11.54},
{"t":2007.409,"o":320.65,"b":320.61,"r":320.7,"a":11.54},
{"t":2007.454,"o":320.34,"b":320.55,"r":320.61,"a":10.34},
{"t":2007.587,"o":320.82,"b":320.55,"r":320.76,"a":11.54},
{"t":2007.68,"o":320.53,"b":320.65,"r":320.91,"a":11.54},
{"t":2007.759,"o":320.53,"b":320.65,"r":320.93,"a":11.54},
{"t":2007.777,"o":320.7,"r":320.82,"a":11.02},
{"t":2007.829,"o":320.97,"b":320.55,"r":320.86,"a":11.54},
{"t":2007.854,"o":320.76,"b":320.7,"r":321.18,"a":11.54},
{"t":2007.878,"o":321.22,"b":320.76,"r":320.97,"a":11.54},
{"t":2007.933,"o":321.03,"b":321.12,"r":321.12,"a":10.94},
{"t":2007.972,"o":321.39,"b":321.32,"r":321.39,"a":11.54},
{"t":2008.038,"o":321.53,"b":321.07,"r":321.24,"a":11.07}
],
"s1":[
{"t":2005.936,"o":319.46,"b":319.34,"r":319.46,"g":319.23,"a":10.96},
{"t":2006.124,"o":319.57,"b":319.82,"r":319.86,"g":319.4,"a":10.96},
{"t":2006.176,"o":319.71,"b":319.86,"r":320.07,"g":319.55,"a":10.96},
{"t":2006.232,"o":319.34,"b":319.61,"r":319.71,"g":319.5,"a":11.56},
{"t":2006.303,"o":319.08,"b":319.61,"r":319.71,"g":319.5,"a":10.96},
{"t":2006.356,"o":319.67,"b":319.82,"r":319.92,"g":319.61},
{"t":2006.392,"o":319.82,"b":319.71,"r":319.82,"g":319.65,"a":10.96},
{"t":2006.432,"o":319.5,"a":11.56},
{"t":2006.483,"o":319.36,"b":319.61,"r":319.67,"g":319.61,"a":10.96},
{"t":2006.568,"o":319.67,"b":319.78,"r":319.88,"g":319.71,"a":11.56},
{"t":2006.642,"o":319.82,"b":319.78,"r":319.82,"g":319.71,"a":10.34},
{"t":2006.693,"o":319.86,"a":10.96},
{"t":2006.737,"o":319.57,"b":319.78,"r":319.92,"g":319.78,"a":10.96},
{"t":2006.802,"o":319.46,"g":319.86,"a":10.96},
{"t":2006.819,"o":319.5,"b":319.71,"r":319.88,"g":319.76,"a":10.34},
{"t":2006.866,"o":319.98,"b":319.86,"r":319.96,"g":319.92,"a":10.34},
{"t":2006.902,"o":319.96,"lo":319.8,"hi":320.15,"a":10.96},
{"t":2006.937,"o":320.03,"b":319.82,"r":319.86,"g":320.03,"a":10.34},
{"t":2007.024,"o":320.23,"b":320.09,"r":320.13,"a":10.96},
{"t":2007.063,"o":320.27},
{"t":2007.097,"o":320.13,"b":319.96,"r":320.13,"a":10.96},
{"t":2007.186,"o":320.19,"b":320.34,"r":320.48,"a":10.65},
{"t":2007.215,"o":320.13,"b":320.27,"r":320.44},
{"t":2007.276,"o":320.61,"lo":320.4,"hi":320.85,"b":320.27,"r":320.44,"a":11.56},
{"t":2007.305,"o":320.48,"b":320.38,"r":320.44},
{"t":2007.351,"o":320.34,"b":320.27,"r":320.5,"a":11.56},
{"t":2007.403,"o":320.23,"b":320.34,"r":320.48,"a":11.56},
{"t":2007.454,"o":320.23,"b":320.19,"r":320.4,"a":10.34},
{"t":2007.58,"o":320.69,"b":320.44,"r":320.65,"a":10.91},
{"t":2007.675,"o":320.34,"b":320.55,"r":320.76,"a":11.56},
{"t":2007.753,"o":321.18,"b":320.65,"r":320.8,"a":10.96},
{"t":2007.775,"o":320.44},
{"t":2007.824,"o":320.8,"b":320.48,"r":320.61,"a":11.56},
{"t":2007.844,"o":320.8,"a":10.96},
{"t":2007.875,"o":320.93,"b":320.72,"r":320.82,"a":11.56},
{"t":2007.925,"o":321.07,"b":320.9,"r":321.14,"a":10.34},
{"t":2007.963,"o":320.8,"a":11.56},
{"t":2008.032,"o":321.18,"b":320.86,"r":321.07,"a":10.34}
]
},
"concat":[
{"width":548,"height":272,"data":{"name":"n32"},
"resolve":{"scale":{"y":"independent"},"axis":{"x":"independent","y":"independent"}},
"layer":[
{"transform":[{"filter":"isValid(datum.a)"}],"mark":{"type":"line","color":"#b0b0b0","strokeDash":[6,4],"strokeWidth":1.3},
"encoding":{"x":{"field":"t","type":"quantitative","scale":{"domain":[2005.8,2008.2],"nice":false,"zero":false},"axis":{"orient":"bottom","values":[2006,2007,2008],"tickSize":10,"labels":false,"domain":false,"grid":false,"title":null}},
"y":{"field":"a","type":"quantitative","scale":{"domain":[8.5,16.5],"reverse":true,"nice":false,"zero":false},"axis":{"orient":"right","values":[9,10,11,12],"tickSize":6,"labels":false,"domain":false,"grid":false,"title":null}}}},
{"transform":[{"filter":"isValid(datum.g)"}],"mark":{"type":"line","color":"#f5a800","strokeWidth":1.5},
"encoding":{"x":{"field":"t","type":"quantitative","scale":{"domain":[2005.8,2008.2],"nice":false,"zero":false},"axis":{"orient":"top","values":[2005.8333,2005.9167,2006,2006.0833,2006.1667,2006.25,2006.3333,2006.4167,2006.5,2006.5833,2006.6667,2006.75,2006.8333,2006.9167,2007,2007.0833,2007.1667,2007.25,2007.3333,2007.4167,2007.5,2007.5833,2007.6667,2007.75,2007.8333,2007.9167,2008,2008.0833,2008.1667],"tickSize":4,"labels":false,"domain":false,"grid":false,"title":null}},
"y":{"field":"g","type":"quantitative","scale":{"domain":[306,323],"nice":false,"zero":false},"axis":null}}},
{"transform":[{"filter":"isValid(datum.r)"}],"mark":{"type":"line","color":"#e4002b","strokeWidth":1.5},
"encoding":{"x":{"field":"t","type":"quantitative","scale":{"domain":[2005.8,2008.2],"nice":false,"zero":false},"axis":{"orient":"bottom","values":[2005.8333,2005.9167,2006,2006.0833,2006.1667,2006.25,2006.3333,2006.4167,2006.5,2006.5833,2006.6667,2006.75,2006.8333,2006.9167,2007,2007.0833,2007.1667,2007.25,2007.3333,2007.4167,2007.5,2007.5833,2007.6667,2007.75,2007.8333,2007.9167,2008,2008.0833,2008.1667],"tickSize":4,"labels":false,"domain":false,"grid":false,"title":null}},
"y":{"field":"r","type":"quantitative","scale":{"domain":[306,323],"nice":false,"zero":false},"axis":{"orient":"left","values":[307,309,311,313,315,317,319,321,323],"tickSize":6,"labels":true,"labelPadding":4,"domain":false,"grid":false,"title":null}}}},
{"transform":[{"filter":"isValid(datum.b)"}],"mark":{"type":"line","color":"#5757a6","strokeWidth":1.5},
"encoding":{"x":{"field":"t","type":"quantitative","scale":{"domain":[2005.8,2008.2],"nice":false,"zero":false},"axis":{"orient":"top","values":[2006,2007,2008],"tickSize":9,"labels":false,"domain":false,"grid":false,"title":null}},
"y":{"field":"b","type":"quantitative","scale":{"domain":[306,323],"nice":false,"zero":false},"axis":null}}},
{"transform":[{"filter":"isValid(datum.lo)"}],"mark":{"type":"rule","color":"black","strokeWidth":1.2},
"encoding":{"x":{"field":"t","type":"quantitative","scale":{"domain":[2005.8,2008.2],"nice":false,"zero":false},"axis":null},
"y":{"field":"lo","type":"quantitative","scale":{"domain":[306,323],"nice":false,"zero":false},"axis":null},"y2":{"field":"hi"}}},
{"transform":[{"filter":"isValid(datum.o)"}],"mark":{"type":"circle","color":"black","opacity":1,"size":48},
"encoding":{"x":{"field":"t","type":"quantitative","scale":{"domain":[2005.8,2008.2],"nice":false,"zero":false},"axis":null},
"y":{"field":"o","type":"quantitative","scale":{"domain":[306,323],"nice":false,"zero":false},"axis":null}}},
{"data":{"values":[{}]},"mark":{"type":"text","text":"32.0º N","font":"Liberation Serif","fontWeight":"bold","fontSize":22,"align":"left","baseline":"alphabetic","color":"black"},
"encoding":{"x":{"datum":2005.87,"type":"quantitative","scale":{"domain":[2005.8,2008.2],"nice":false,"zero":false},"axis":null},
"y":{"datum":306.55,"type":"quantitative","scale":{"domain":[306,323],"nice":false,"zero":false},"axis":null}}}
]},
{"width":548,"height":272,"data":{"name":"s30"},
"resolve":{"scale":{"y":"independent"},"axis":{"x":"independent","y":"independent"}},
"layer":[
{"transform":[{"filter":"isValid(datum.a)"}],"mark":{"type":"line","color":"#b0b0b0","strokeDash":[6,4],"strokeWidth":1.3},
"encoding":{"x":{"field":"t","type":"quantitative","scale":{"domain":[2005.8,2008.2],"nice":false,"zero":false},"axis":{"orient":"bottom","values":[2006,2007,2008],"tickSize":10,"labels":false,"domain":false,"grid":false,"title":null}},
"y":{"field":"a","type":"quantitative","scale":{"domain":[8.5,16.5],"reverse":true,"nice":false,"zero":false},"axis":{"orient":"right","values":[9,10,11,12],"tickSize":6,"labels":true,"labelPadding":4,"domain":false,"grid":false,"title":null}}}},
{"transform":[{"filter":"isValid(datum.g)"}],"mark":{"type":"line","color":"#f5a800","strokeWidth":1.5},
"encoding":{"x":{"field":"t","type":"quantitative","scale":{"domain":[2005.8,2008.2],"nice":false,"zero":false},"axis":{"orient":"top","values":[2005.8333,2005.9167,2006,2006.0833,2006.1667,2006.25,2006.3333,2006.4167,2006.5,2006.5833,2006.6667,2006.75,2006.8333,2006.9167,2007,2007.0833,2007.1667,2007.25,2007.3333,2007.4167,2007.5,2007.5833,2007.6667,2007.75,2007.8333,2007.9167,2008,2008.0833,2008.1667],"tickSize":4,"labels":false,"domain":false,"grid":false,"title":null}},
"y":{"field":"g","type":"quantitative","scale":{"domain":[306,323],"nice":false,"zero":false},"axis":null}}},
{"transform":[{"filter":"isValid(datum.r)"}],"mark":{"type":"line","color":"#e4002b","strokeWidth":1.5},
"encoding":{"x":{"field":"t","type":"quantitative","scale":{"domain":[2005.8,2008.2],"nice":false,"zero":false},"axis":{"orient":"bottom","values":[2005.8333,2005.9167,2006,2006.0833,2006.1667,2006.25,2006.3333,2006.4167,2006.5,2006.5833,2006.6667,2006.75,2006.8333,2006.9167,2007,2007.0833,2007.1667,2007.25,2007.3333,2007.4167,2007.5,2007.5833,2007.6667,2007.75,2007.8333,2007.9167,2008,2008.0833,2008.1667],"tickSize":4,"labels":false,"domain":false,"grid":false,"title":null}},
"y":{"field":"r","type":"quantitative","scale":{"domain":[306,323],"nice":false,"zero":false},"axis":{"orient":"left","values":[307,309,311,313,315,317,319,321,323],"tickSize":6,"labels":false,"domain":false,"grid":false,"title":null}}}},
{"transform":[{"filter":"isValid(datum.b)"}],"mark":{"type":"line","color":"#5757a6","strokeWidth":1.5},
"encoding":{"x":{"field":"t","type":"quantitative","scale":{"domain":[2005.8,2008.2],"nice":false,"zero":false},"axis":{"orient":"top","values":[2006,2007,2008],"tickSize":9,"labels":false,"domain":false,"grid":false,"title":null}},
"y":{"field":"b","type":"quantitative","scale":{"domain":[306,323],"nice":false,"zero":false},"axis":null}}},
{"transform":[{"filter":"isValid(datum.lo)"}],"mark":{"type":"rule","color":"black","strokeWidth":1.2},
"encoding":{"x":{"field":"t","type":"quantitative","scale":{"domain":[2005.8,2008.2],"nice":false,"zero":false},"axis":null},
"y":{"field":"lo","type":"quantitative","scale":{"domain":[306,323],"nice":false,"zero":false},"axis":null},"y2":{"field":"hi"}}},
{"transform":[{"filter":"isValid(datum.o)"}],"mark":{"type":"circle","color":"black","opacity":1,"size":48},
"encoding":{"x":{"field":"t","type":"quantitative","scale":{"domain":[2005.8,2008.2],"nice":false,"zero":false},"axis":null},
"y":{"field":"o","type":"quantitative","scale":{"domain":[306,323],"nice":false,"zero":false},"axis":null}}},
{"data":{"values":[{}]},"mark":{"type":"text","text":"30.0º S","font":"Liberation Serif","fontWeight":"bold","fontSize":22,"align":"left","baseline":"alphabetic","color":"black"},
"encoding":{"x":{"datum":2005.88,"type":"quantitative","scale":{"domain":[2005.8,2008.2],"nice":false,"zero":false},"axis":null},
"y":{"datum":306.55,"type":"quantitative","scale":{"domain":[306,323],"nice":false,"zero":false},"axis":null}}}
]},
{"width":548,"height":127.5,"data":{"name":"n26"},
"resolve":{"scale":{"y":"independent"},"axis":{"x":"independent","y":"independent"}},
"layer":[
{"transform":[{"filter":"isValid(datum.a)"}],"mark":{"type":"line","color":"#b0b0b0","strokeDash":[6,4],"strokeWidth":1.3},
"encoding":{"x":{"field":"t","type":"quantitative","scale":{"domain":[2005.8,2008.2],"nice":false,"zero":false},"axis":{"orient":"bottom","values":[2006,2007,2008],"tickSize":10,"labels":false,"domain":false,"grid":false,"title":null}},
"y":{"field":"a","type":"quantitative","scale":{"domain":[8.5,12.5],"reverse":true,"nice":false,"zero":false},"axis":{"orient":"right","values":[9,10,11,12],"tickSize":6,"labels":false,"domain":false,"grid":false,"title":null}}}},
{"transform":[{"filter":"isValid(datum.g)"}],"mark":{"type":"line","color":"#f5a800","strokeWidth":1.5},
"encoding":{"x":{"field":"t","type":"quantitative","scale":{"domain":[2005.8,2008.2],"nice":false,"zero":false},"axis":{"orient":"top","values":[2005.8333,2005.9167,2006,2006.0833,2006.1667,2006.25,2006.3333,2006.4167,2006.5,2006.5833,2006.6667,2006.75,2006.8333,2006.9167,2007,2007.0833,2007.1667,2007.25,2007.3333,2007.4167,2007.5,2007.5833,2007.6667,2007.75,2007.8333,2007.9167,2008,2008.0833,2008.1667],"tickSize":4,"labels":false,"domain":false,"grid":false,"title":null}},
"y":{"field":"g","type":"quantitative","scale":{"domain":[315,323],"nice":false,"zero":false},"axis":null}}},
{"transform":[{"filter":"isValid(datum.r)"}],"mark":{"type":"line","color":"#e4002b","strokeWidth":1.5},
"encoding":{"x":{"field":"t","type":"quantitative","scale":{"domain":[2005.8,2008.2],"nice":false,"zero":false},"axis":{"orient":"bottom","values":[2005.8333,2005.9167,2006,2006.0833,2006.1667,2006.25,2006.3333,2006.4167,2006.5,2006.5833,2006.6667,2006.75,2006.8333,2006.9167,2007,2007.0833,2007.1667,2007.25,2007.3333,2007.4167,2007.5,2007.5833,2007.6667,2007.75,2007.8333,2007.9167,2008,2008.0833,2008.1667],"tickSize":4,"labels":false,"domain":false,"grid":false,"title":null}},
"y":{"field":"r","type":"quantitative","scale":{"domain":[315,323],"nice":false,"zero":false},"axis":{"orient":"left","values":[315,317,319,321,323],"tickSize":6,"labels":true,"labelPadding":4,"domain":false,"grid":false,"title":null}}}},
{"transform":[{"filter":"isValid(datum.b)"}],"mark":{"type":"line","color":"#5757a6","strokeWidth":1.5},
"encoding":{"x":{"field":"t","type":"quantitative","scale":{"domain":[2005.8,2008.2],"nice":false,"zero":false},"axis":{"orient":"top","values":[2006,2007,2008],"tickSize":9,"labels":false,"domain":false,"grid":false,"title":null}},
"y":{"field":"b","type":"quantitative","scale":{"domain":[315,323],"nice":false,"zero":false},"axis":null}}},
{"transform":[{"filter":"isValid(datum.lo)"}],"mark":{"type":"rule","color":"black","strokeWidth":1.2},
"encoding":{"x":{"field":"t","type":"quantitative","scale":{"domain":[2005.8,2008.2],"nice":false,"zero":false},"axis":null},
"y":{"field":"lo","type":"quantitative","scale":{"domain":[315,323],"nice":false,"zero":false},"axis":null},"y2":{"field":"hi"}}},
{"transform":[{"filter":"isValid(datum.o)"}],"mark":{"type":"circle","color":"black","opacity":1,"size":48},
"encoding":{"x":{"field":"t","type":"quantitative","scale":{"domain":[2005.8,2008.2],"nice":false,"zero":false},"axis":null},
"y":{"field":"o","type":"quantitative","scale":{"domain":[315,323],"nice":false,"zero":false},"axis":null}}},
{"data":{"values":[{}]},"mark":{"type":"text","text":"26.4º N","font":"Liberation Serif","fontWeight":"bold","fontSize":22,"align":"left","baseline":"alphabetic","color":"black"},
"encoding":{"x":{"datum":2005.87,"type":"quantitative","scale":{"domain":[2005.8,2008.2],"nice":false,"zero":false},"axis":null},
"y":{"datum":315.72,"type":"quantitative","scale":{"domain":[315,323],"nice":false,"zero":false},"axis":null}}}
]},
{"width":548,"height":127.5,"data":{"name":"s24"},
"resolve":{"scale":{"y":"independent"},"axis":{"x":"independent","y":"independent"}},
"layer":[
{"transform":[{"filter":"isValid(datum.a)"}],"mark":{"type":"line","color":"#b0b0b0","strokeDash":[6,4],"strokeWidth":1.3},
"encoding":{"x":{"field":"t","type":"quantitative","scale":{"domain":[2005.8,2008.2],"nice":false,"zero":false},"axis":{"orient":"bottom","values":[2006,2007,2008],"tickSize":10,"labels":false,"domain":false,"grid":false,"title":null}},
"y":{"field":"a","type":"quantitative","scale":{"domain":[8.5,12.5],"reverse":true,"nice":false,"zero":false},"axis":{"orient":"right","values":[9,10,11,12],"tickSize":6,"labels":true,"labelPadding":4,"domain":false,"grid":false,"title":null}}}},
{"transform":[{"filter":"isValid(datum.g)"}],"mark":{"type":"line","color":"#f5a800","strokeWidth":1.5},
"encoding":{"x":{"field":"t","type":"quantitative","scale":{"domain":[2005.8,2008.2],"nice":false,"zero":false},"axis":{"orient":"top","values":[2005.8333,2005.9167,2006,2006.0833,2006.1667,2006.25,2006.3333,2006.4167,2006.5,2006.5833,2006.6667,2006.75,2006.8333,2006.9167,2007,2007.0833,2007.1667,2007.25,2007.3333,2007.4167,2007.5,2007.5833,2007.6667,2007.75,2007.8333,2007.9167,2008,2008.0833,2008.1667],"tickSize":4,"labels":false,"domain":false,"grid":false,"title":null}},
"y":{"field":"g","type":"quantitative","scale":{"domain":[315,323],"nice":false,"zero":false},"axis":null}}},
{"transform":[{"filter":"isValid(datum.r)"}],"mark":{"type":"line","color":"#e4002b","strokeWidth":1.5},
"encoding":{"x":{"field":"t","type":"quantitative","scale":{"domain":[2005.8,2008.2],"nice":false,"zero":false},"axis":{"orient":"bottom","values":[2005.8333,2005.9167,2006,2006.0833,2006.1667,2006.25,2006.3333,2006.4167,2006.5,2006.5833,2006.6667,2006.75,2006.8333,2006.9167,2007,2007.0833,2007.1667,2007.25,2007.3333,2007.4167,2007.5,2007.5833,2007.6667,2007.75,2007.8333,2007.9167,2008,2008.0833,2008.1667],"tickSize":4,"labels":false,"domain":false,"grid":false,"title":null}},
"y":{"field":"r","type":"quantitative","scale":{"domain":[315,323],"nice":false,"zero":false},"axis":{"orient":"left","values":[315,317,319,321,323],"tickSize":6,"labels":false,"domain":false,"grid":false,"title":null}}}},
{"transform":[{"filter":"isValid(datum.b)"}],"mark":{"type":"line","color":"#5757a6","strokeWidth":1.5},
"encoding":{"x":{"field":"t","type":"quantitative","scale":{"domain":[2005.8,2008.2],"nice":false,"zero":false},"axis":{"orient":"top","values":[2006,2007,2008],"tickSize":9,"labels":false,"domain":false,"grid":false,"title":null}},
"y":{"field":"b","type":"quantitative","scale":{"domain":[315,323],"nice":false,"zero":false},"axis":null}}},
{"transform":[{"filter":"isValid(datum.lo)"}],"mark":{"type":"rule","color":"black","strokeWidth":1.2},
"encoding":{"x":{"field":"t","type":"quantitative","scale":{"domain":[2005.8,2008.2],"nice":false,"zero":false},"axis":null},
"y":{"field":"lo","type":"quantitative","scale":{"domain":[315,323],"nice":false,"zero":false},"axis":null},"y2":{"field":"hi"}}},
{"transform":[{"filter":"isValid(datum.o)"}],"mark":{"type":"circle","color":"black","opacity":1,"size":48},
"encoding":{"x":{"field":"t","type":"quantitative","scale":{"domain":[2005.8,2008.2],"nice":false,"zero":false},"axis":null},
"y":{"field":"o","type":"quantitative","scale":{"domain":[315,323],"nice":false,"zero":false},"axis":null}}},
{"data":{"values":[{}]},"mark":{"type":"text","text":"24.4º S","font":"Liberation Serif","fontWeight":"bold","fontSize":22,"align":"left","baseline":"alphabetic","color":"black"},
"encoding":{"x":{"datum":2005.875,"type":"quantitative","scale":{"domain":[2005.8,2008.2],"nice":false,"zero":false},"axis":null},
"y":{"datum":315.72,"type":"quantitative","scale":{"domain":[315,323],"nice":false,"zero":false},"axis":null}}}
]},
{"width":548,"height":127.5,"data":{"name":"n20"},
"resolve":{"scale":{"y":"independent"},"axis":{"x":"independent","y":"independent"}},
"layer":[
{"transform":[{"filter":"isValid(datum.a)"}],"mark":{"type":"line","color":"#b0b0b0","strokeDash":[6,4],"strokeWidth":1.3},
"encoding":{"x":{"field":"t","type":"quantitative","scale":{"domain":[2005.8,2008.2],"nice":false,"zero":false},"axis":{"orient":"bottom","values":[2006,2007,2008],"tickSize":10,"labels":false,"domain":false,"grid":false,"title":null}},
"y":{"field":"a","type":"quantitative","scale":{"domain":[8.5,12.5],"reverse":true,"nice":false,"zero":false},"axis":{"orient":"right","values":[9,10,11,12],"tickSize":6,"labels":false,"domain":false,"grid":false,"title":null}}}},
{"transform":[{"filter":"isValid(datum.g)"}],"mark":{"type":"line","color":"#f5a800","strokeWidth":1.5},
"encoding":{"x":{"field":"t","type":"quantitative","scale":{"domain":[2005.8,2008.2],"nice":false,"zero":false},"axis":{"orient":"top","values":[2005.8333,2005.9167,2006,2006.0833,2006.1667,2006.25,2006.3333,2006.4167,2006.5,2006.5833,2006.6667,2006.75,2006.8333,2006.9167,2007,2007.0833,2007.1667,2007.25,2007.3333,2007.4167,2007.5,2007.5833,2007.6667,2007.75,2007.8333,2007.9167,2008,2008.0833,2008.1667],"tickSize":4,"labels":false,"domain":false,"grid":false,"title":null}},
"y":{"field":"g","type":"quantitative","scale":{"domain":[315,323],"nice":false,"zero":false},"axis":null}}},
{"transform":[{"filter":"isValid(datum.r)"}],"mark":{"type":"line","color":"#e4002b","strokeWidth":1.5},
"encoding":{"x":{"field":"t","type":"quantitative","scale":{"domain":[2005.8,2008.2],"nice":false,"zero":false},"axis":{"orient":"bottom","values":[2005.8333,2005.9167,2006,2006.0833,2006.1667,2006.25,2006.3333,2006.4167,2006.5,2006.5833,2006.6667,2006.75,2006.8333,2006.9167,2007,2007.0833,2007.1667,2007.25,2007.3333,2007.4167,2007.5,2007.5833,2007.6667,2007.75,2007.8333,2007.9167,2008,2008.0833,2008.1667],"tickSize":4,"labels":false,"domain":false,"grid":false,"title":null}},
"y":{"field":"r","type":"quantitative","scale":{"domain":[315,323],"nice":false,"zero":false},"axis":{"orient":"left","values":[315,317,319,321,323],"tickSize":6,"labels":true,"labelPadding":4,"domain":false,"grid":false,"title":"N₂O concentration (ppb)","titleX":-70,"titleY":100,"titleAngle":-90,"titleAlign":"center","titleBaseline":"middle"}}}},
{"transform":[{"filter":"isValid(datum.b)"}],"mark":{"type":"line","color":"#5757a6","strokeWidth":1.5},
"encoding":{"x":{"field":"t","type":"quantitative","scale":{"domain":[2005.8,2008.2],"nice":false,"zero":false},"axis":{"orient":"top","values":[2006,2007,2008],"tickSize":9,"labels":false,"domain":false,"grid":false,"title":null}},
"y":{"field":"b","type":"quantitative","scale":{"domain":[315,323],"nice":false,"zero":false},"axis":null}}},
{"transform":[{"filter":"isValid(datum.lo)"}],"mark":{"type":"rule","color":"black","strokeWidth":1.2},
"encoding":{"x":{"field":"t","type":"quantitative","scale":{"domain":[2005.8,2008.2],"nice":false,"zero":false},"axis":null},
"y":{"field":"lo","type":"quantitative","scale":{"domain":[315,323],"nice":false,"zero":false},"axis":null},"y2":{"field":"hi"}}},
{"transform":[{"filter":"isValid(datum.o)"}],"mark":{"type":"circle","color":"black","opacity":1,"size":48},
"encoding":{"x":{"field":"t","type":"quantitative","scale":{"domain":[2005.8,2008.2],"nice":false,"zero":false},"axis":null},
"y":{"field":"o","type":"quantitative","scale":{"domain":[315,323],"nice":false,"zero":false},"axis":null}}},
{"data":{"values":[{}]},"mark":{"type":"text","text":"20.7º N","font":"Liberation Serif","fontWeight":"bold","fontSize":22,"align":"left","baseline":"alphabetic","color":"black"},
"encoding":{"x":{"datum":2005.87,"type":"quantitative","scale":{"domain":[2005.8,2008.2],"nice":false,"zero":false},"axis":null},
"y":{"datum":315.72,"type":"quantitative","scale":{"domain":[315,323],"nice":false,"zero":false},"axis":null}}}
]},
{"width":548,"height":127.5,"data":{"name":"s18"},
"resolve":{"scale":{"y":"independent"},"axis":{"x":"independent","y":"independent"}},
"layer":[
{"transform":[{"filter":"isValid(datum.a)"}],"mark":{"type":"line","color":"#b0b0b0","strokeDash":[6,4],"strokeWidth":1.3},
"encoding":{"x":{"field":"t","type":"quantitative","scale":{"domain":[2005.8,2008.2],"nice":false,"zero":false},"axis":{"orient":"bottom","values":[2006,2007,2008],"tickSize":10,"labels":false,"domain":false,"grid":false,"title":null}},
"y":{"field":"a","type":"quantitative","scale":{"domain":[8.5,12.5],"reverse":true,"nice":false,"zero":false},"axis":{"orient":"right","values":[9,10,11,12],"tickSize":6,"labels":true,"labelPadding":4,"domain":false,"grid":false,"title":"Sampling altitude (km)","titleX":56,"titleY":105,"titleAngle":90,"titleAlign":"center","titleBaseline":"middle"}}}},
{"transform":[{"filter":"isValid(datum.g)"}],"mark":{"type":"line","color":"#f5a800","strokeWidth":1.5},
"encoding":{"x":{"field":"t","type":"quantitative","scale":{"domain":[2005.8,2008.2],"nice":false,"zero":false},"axis":{"orient":"top","values":[2005.8333,2005.9167,2006,2006.0833,2006.1667,2006.25,2006.3333,2006.4167,2006.5,2006.5833,2006.6667,2006.75,2006.8333,2006.9167,2007,2007.0833,2007.1667,2007.25,2007.3333,2007.4167,2007.5,2007.5833,2007.6667,2007.75,2007.8333,2007.9167,2008,2008.0833,2008.1667],"tickSize":4,"labels":false,"domain":false,"grid":false,"title":null}},
"y":{"field":"g","type":"quantitative","scale":{"domain":[315,323],"nice":false,"zero":false},"axis":null}}},
{"transform":[{"filter":"isValid(datum.r)"}],"mark":{"type":"line","color":"#e4002b","strokeWidth":1.5},
"encoding":{"x":{"field":"t","type":"quantitative","scale":{"domain":[2005.8,2008.2],"nice":false,"zero":false},"axis":{"orient":"bottom","values":[2005.8333,2005.9167,2006,2006.0833,2006.1667,2006.25,2006.3333,2006.4167,2006.5,2006.5833,2006.6667,2006.75,2006.8333,2006.9167,2007,2007.0833,2007.1667,2007.25,2007.3333,2007.4167,2007.5,2007.5833,2007.6667,2007.75,2007.8333,2007.9167,2008,2008.0833,2008.1667],"tickSize":4,"labels":false,"domain":false,"grid":false,"title":null}},
"y":{"field":"r","type":"quantitative","scale":{"domain":[315,323],"nice":false,"zero":false},"axis":{"orient":"left","values":[315,317,319,321,323],"tickSize":6,"labels":false,"domain":false,"grid":false,"title":null}}}},
{"transform":[{"filter":"isValid(datum.b)"}],"mark":{"type":"line","color":"#5757a6","strokeWidth":1.5},
"encoding":{"x":{"field":"t","type":"quantitative","scale":{"domain":[2005.8,2008.2],"nice":false,"zero":false},"axis":{"orient":"top","values":[2006,2007,2008],"tickSize":9,"labels":false,"domain":false,"grid":false,"title":null}},
"y":{"field":"b","type":"quantitative","scale":{"domain":[315,323],"nice":false,"zero":false},"axis":null}}},
{"transform":[{"filter":"isValid(datum.lo)"}],"mark":{"type":"rule","color":"black","strokeWidth":1.2},
"encoding":{"x":{"field":"t","type":"quantitative","scale":{"domain":[2005.8,2008.2],"nice":false,"zero":false},"axis":null},
"y":{"field":"lo","type":"quantitative","scale":{"domain":[315,323],"nice":false,"zero":false},"axis":null},"y2":{"field":"hi"}}},
{"transform":[{"filter":"isValid(datum.o)"}],"mark":{"type":"circle","color":"black","opacity":1,"size":48},
"encoding":{"x":{"field":"t","type":"quantitative","scale":{"domain":[2005.8,2008.2],"nice":false,"zero":false},"axis":null},
"y":{"field":"o","type":"quantitative","scale":{"domain":[315,323],"nice":false,"zero":false},"axis":null}}},
{"data":{"values":[{}]},"mark":{"type":"text","text":"18.7º S","font":"Liberation Serif","fontWeight":"bold","fontSize":22,"align":"left","baseline":"alphabetic","color":"black"},
"encoding":{"x":{"datum":2005.875,"type":"quantitative","scale":{"domain":[2005.8,2008.2],"nice":false,"zero":false},"axis":null},
"y":{"datum":315.72,"type":"quantitative","scale":{"domain":[315,323],"nice":false,"zero":false},"axis":null}}}
]},
{"width":548,"height":127.5,"data":{"name":"n15"},
"resolve":{"scale":{"y":"independent"},"axis":{"x":"independent","y":"independent"}},
"layer":[
{"transform":[{"filter":"isValid(datum.a)"}],"mark":{"type":"line","color":"#b0b0b0","strokeDash":[6,4],"strokeWidth":1.3},
"encoding":{"x":{"field":"t","type":"quantitative","scale":{"domain":[2005.8,2008.2],"nice":false,"zero":false},"axis":{"orient":"bottom","values":[2006,2007,2008],"tickSize":10,"labels":false,"domain":false,"grid":false,"title":null}},
"y":{"field":"a","type":"quantitative","scale":{"domain":[8.5,12.5],"reverse":true,"nice":false,"zero":false},"axis":{"orient":"right","values":[9,10,11,12],"tickSize":6,"labels":false,"domain":false,"grid":false,"title":null}}}},
{"transform":[{"filter":"isValid(datum.g)"}],"mark":{"type":"line","color":"#f5a800","strokeWidth":1.5},
"encoding":{"x":{"field":"t","type":"quantitative","scale":{"domain":[2005.8,2008.2],"nice":false,"zero":false},"axis":{"orient":"top","values":[2005.8333,2005.9167,2006,2006.0833,2006.1667,2006.25,2006.3333,2006.4167,2006.5,2006.5833,2006.6667,2006.75,2006.8333,2006.9167,2007,2007.0833,2007.1667,2007.25,2007.3333,2007.4167,2007.5,2007.5833,2007.6667,2007.75,2007.8333,2007.9167,2008,2008.0833,2008.1667],"tickSize":4,"labels":false,"domain":false,"grid":false,"title":null}},
"y":{"field":"g","type":"quantitative","scale":{"domain":[315,323],"nice":false,"zero":false},"axis":null}}},
{"transform":[{"filter":"isValid(datum.r)"}],"mark":{"type":"line","color":"#e4002b","strokeWidth":1.5},
"encoding":{"x":{"field":"t","type":"quantitative","scale":{"domain":[2005.8,2008.2],"nice":false,"zero":false},"axis":{"orient":"bottom","values":[2005.8333,2005.9167,2006,2006.0833,2006.1667,2006.25,2006.3333,2006.4167,2006.5,2006.5833,2006.6667,2006.75,2006.8333,2006.9167,2007,2007.0833,2007.1667,2007.25,2007.3333,2007.4167,2007.5,2007.5833,2007.6667,2007.75,2007.8333,2007.9167,2008,2008.0833,2008.1667],"tickSize":4,"labels":false,"domain":false,"grid":false,"title":null}},
"y":{"field":"r","type":"quantitative","scale":{"domain":[315,323],"nice":false,"zero":false},"axis":{"orient":"left","values":[315,317,319,321,323],"tickSize":6,"labels":true,"labelPadding":4,"domain":false,"grid":false,"title":null}}}},
{"transform":[{"filter":"isValid(datum.b)"}],"mark":{"type":"line","color":"#5757a6","strokeWidth":1.5},
"encoding":{"x":{"field":"t","type":"quantitative","scale":{"domain":[2005.8,2008.2],"nice":false,"zero":false},"axis":{"orient":"top","values":[2006,2007,2008],"tickSize":9,"labels":false,"domain":false,"grid":false,"title":null}},
"y":{"field":"b","type":"quantitative","scale":{"domain":[315,323],"nice":false,"zero":false},"axis":null}}},
{"transform":[{"filter":"isValid(datum.lo)"}],"mark":{"type":"rule","color":"black","strokeWidth":1.2},
"encoding":{"x":{"field":"t","type":"quantitative","scale":{"domain":[2005.8,2008.2],"nice":false,"zero":false},"axis":null},
"y":{"field":"lo","type":"quantitative","scale":{"domain":[315,323],"nice":false,"zero":false},"axis":null},"y2":{"field":"hi"}}},
{"transform":[{"filter":"isValid(datum.o)"}],"mark":{"type":"circle","color":"black","opacity":1,"size":48},
"encoding":{"x":{"field":"t","type":"quantitative","scale":{"domain":[2005.8,2008.2],"nice":false,"zero":false},"axis":null},
"y":{"field":"o","type":"quantitative","scale":{"domain":[315,323],"nice":false,"zero":false},"axis":null}}},
{"data":{"values":[{}]},"mark":{"type":"text","text":"15.1º N","font":"Liberation Serif","fontWeight":"bold","fontSize":22,"align":"left","baseline":"alphabetic","color":"black"},
"encoding":{"x":{"datum":2005.87,"type":"quantitative","scale":{"domain":[2005.8,2008.2],"nice":false,"zero":false},"axis":null},
"y":{"datum":315.72,"type":"quantitative","scale":{"domain":[315,323],"nice":false,"zero":false},"axis":null}}}
]},
{"width":548,"height":127.5,"data":{"name":"s13"},
"resolve":{"scale":{"y":"independent"},"axis":{"x":"independent","y":"independent"}},
"layer":[
{"transform":[{"filter":"isValid(datum.a)"}],"mark":{"type":"line","color":"#b0b0b0","strokeDash":[6,4],"strokeWidth":1.3},
"encoding":{"x":{"field":"t","type":"quantitative","scale":{"domain":[2005.8,2008.2],"nice":false,"zero":false},"axis":{"orient":"bottom","values":[2006,2007,2008],"tickSize":10,"labels":false,"domain":false,"grid":false,"title":null}},
"y":{"field":"a","type":"quantitative","scale":{"domain":[8.5,12.5],"reverse":true,"nice":false,"zero":false},"axis":{"orient":"right","values":[9,10,11,12],"tickSize":6,"labels":true,"labelPadding":4,"domain":false,"grid":false,"title":null}}}},
{"transform":[{"filter":"isValid(datum.g)"}],"mark":{"type":"line","color":"#f5a800","strokeWidth":1.5},
"encoding":{"x":{"field":"t","type":"quantitative","scale":{"domain":[2005.8,2008.2],"nice":false,"zero":false},"axis":{"orient":"top","values":[2005.8333,2005.9167,2006,2006.0833,2006.1667,2006.25,2006.3333,2006.4167,2006.5,2006.5833,2006.6667,2006.75,2006.8333,2006.9167,2007,2007.0833,2007.1667,2007.25,2007.3333,2007.4167,2007.5,2007.5833,2007.6667,2007.75,2007.8333,2007.9167,2008,2008.0833,2008.1667],"tickSize":4,"labels":false,"domain":false,"grid":false,"title":null}},
"y":{"field":"g","type":"quantitative","scale":{"domain":[315,323],"nice":false,"zero":false},"axis":null}}},
{"transform":[{"filter":"isValid(datum.r)"}],"mark":{"type":"line","color":"#e4002b","strokeWidth":1.5},
"encoding":{"x":{"field":"t","type":"quantitative","scale":{"domain":[2005.8,2008.2],"nice":false,"zero":false},"axis":{"orient":"bottom","values":[2005.8333,2005.9167,2006,2006.0833,2006.1667,2006.25,2006.3333,2006.4167,2006.5,2006.5833,2006.6667,2006.75,2006.8333,2006.9167,2007,2007.0833,2007.1667,2007.25,2007.3333,2007.4167,2007.5,2007.5833,2007.6667,2007.75,2007.8333,2007.9167,2008,2008.0833,2008.1667],"tickSize":4,"labels":false,"domain":false,"grid":false,"title":null}},
"y":{"field":"r","type":"quantitative","scale":{"domain":[315,323],"nice":false,"zero":false},"axis":{"orient":"left","values":[315,317,319,321,323],"tickSize":6,"labels":false,"domain":false,"grid":false,"title":null}}}},
{"transform":[{"filter":"isValid(datum.b)"}],"mark":{"type":"line","color":"#5757a6","strokeWidth":1.5},
"encoding":{"x":{"field":"t","type":"quantitative","scale":{"domain":[2005.8,2008.2],"nice":false,"zero":false},"axis":{"orient":"top","values":[2006,2007,2008],"tickSize":9,"labels":false,"domain":false,"grid":false,"title":null}},
"y":{"field":"b","type":"quantitative","scale":{"domain":[315,323],"nice":false,"zero":false},"axis":null}}},
{"transform":[{"filter":"isValid(datum.lo)"}],"mark":{"type":"rule","color":"black","strokeWidth":1.2},
"encoding":{"x":{"field":"t","type":"quantitative","scale":{"domain":[2005.8,2008.2],"nice":false,"zero":false},"axis":null},
"y":{"field":"lo","type":"quantitative","scale":{"domain":[315,323],"nice":false,"zero":false},"axis":null},"y2":{"field":"hi"}}},
{"transform":[{"filter":"isValid(datum.o)"}],"mark":{"type":"circle","color":"black","opacity":1,"size":48},
"encoding":{"x":{"field":"t","type":"quantitative","scale":{"domain":[2005.8,2008.2],"nice":false,"zero":false},"axis":null},
"y":{"field":"o","type":"quantitative","scale":{"domain":[315,323],"nice":false,"zero":false},"axis":null}}},
{"data":{"values":[{}]},"mark":{"type":"text","text":"13.1º S","font":"Liberation Serif","fontWeight":"bold","fontSize":22,"align":"left","baseline":"alphabetic","color":"black"},
"encoding":{"x":{"datum":2005.875,"type":"quantitative","scale":{"domain":[2005.8,2008.2],"nice":false,"zero":false},"axis":null},
"y":{"datum":315.72,"type":"quantitative","scale":{"domain":[315,323],"nice":false,"zero":false},"axis":null}}}
]},
{"width":548,"height":127.5,"data":{"name":"n9"},
"resolve":{"scale":{"y":"independent"},"axis":{"x":"independent","y":"independent"}},
"layer":[
{"transform":[{"filter":"isValid(datum.a)"}],"mark":{"type":"line","color":"#b0b0b0","strokeDash":[6,4],"strokeWidth":1.3},
"encoding":{"x":{"field":"t","type":"quantitative","scale":{"domain":[2005.8,2008.2],"nice":false,"zero":false},"axis":{"orient":"bottom","values":[2006,2007,2008],"tickSize":10,"labels":false,"domain":false,"grid":false,"title":null}},
"y":{"field":"a","type":"quantitative","scale":{"domain":[8.5,12.5],"reverse":true,"nice":false,"zero":false},"axis":{"orient":"right","values":[9,10,11,12],"tickSize":6,"labels":false,"domain":false,"grid":false,"title":null}}}},
{"transform":[{"filter":"isValid(datum.g)"}],"mark":{"type":"line","color":"#f5a800","strokeWidth":1.5},
"encoding":{"x":{"field":"t","type":"quantitative","scale":{"domain":[2005.8,2008.2],"nice":false,"zero":false},"axis":{"orient":"top","values":[2005.8333,2005.9167,2006,2006.0833,2006.1667,2006.25,2006.3333,2006.4167,2006.5,2006.5833,2006.6667,2006.75,2006.8333,2006.9167,2007,2007.0833,2007.1667,2007.25,2007.3333,2007.4167,2007.5,2007.5833,2007.6667,2007.75,2007.8333,2007.9167,2008,2008.0833,2008.1667],"tickSize":4,"labels":false,"domain":false,"grid":false,"title":null}},
"y":{"field":"g","type":"quantitative","scale":{"domain":[315,323],"nice":false,"zero":false},"axis":null}}},
{"transform":[{"filter":"isValid(datum.r)"}],"mark":{"type":"line","color":"#e4002b","strokeWidth":1.5},
"encoding":{"x":{"field":"t","type":"quantitative","scale":{"domain":[2005.8,2008.2],"nice":false,"zero":false},"axis":{"orient":"bottom","values":[2005.8333,2005.9167,2006,2006.0833,2006.1667,2006.25,2006.3333,2006.4167,2006.5,2006.5833,2006.6667,2006.75,2006.8333,2006.9167,2007,2007.0833,2007.1667,2007.25,2007.3333,2007.4167,2007.5,2007.5833,2007.6667,2007.75,2007.8333,2007.9167,2008,2008.0833,2008.1667],"tickSize":4,"labels":false,"domain":false,"grid":false,"title":null}},
"y":{"field":"r","type":"quantitative","scale":{"domain":[315,323],"nice":false,"zero":false},"axis":{"orient":"left","values":[315,317,319,321,323],"tickSize":6,"labels":true,"labelPadding":4,"domain":false,"grid":false,"title":null}}}},
{"transform":[{"filter":"isValid(datum.b)"}],"mark":{"type":"line","color":"#5757a6","strokeWidth":1.5},
"encoding":{"x":{"field":"t","type":"quantitative","scale":{"domain":[2005.8,2008.2],"nice":false,"zero":false},"axis":{"orient":"top","values":[2006,2007,2008],"tickSize":9,"labels":false,"domain":false,"grid":false,"title":null}},
"y":{"field":"b","type":"quantitative","scale":{"domain":[315,323],"nice":false,"zero":false},"axis":null}}},
{"transform":[{"filter":"isValid(datum.lo)"}],"mark":{"type":"rule","color":"black","strokeWidth":1.2},
"encoding":{"x":{"field":"t","type":"quantitative","scale":{"domain":[2005.8,2008.2],"nice":false,"zero":false},"axis":null},
"y":{"field":"lo","type":"quantitative","scale":{"domain":[315,323],"nice":false,"zero":false},"axis":null},"y2":{"field":"hi"}}},
{"transform":[{"filter":"isValid(datum.o)"}],"mark":{"type":"circle","color":"black","opacity":1,"size":48},
"encoding":{"x":{"field":"t","type":"quantitative","scale":{"domain":[2005.8,2008.2],"nice":false,"zero":false},"axis":null},
"y":{"field":"o","type":"quantitative","scale":{"domain":[315,323],"nice":false,"zero":false},"axis":null}}},
{"data":{"values":[{}]},"mark":{"type":"text","text":"9.5º N","font":"Liberation Serif","fontWeight":"bold","fontSize":22,"align":"left","baseline":"alphabetic","color":"black"},
"encoding":{"x":{"datum":2005.87,"type":"quantitative","scale":{"domain":[2005.8,2008.2],"nice":false,"zero":false},"axis":null},
"y":{"datum":315.72,"type":"quantitative","scale":{"domain":[315,323],"nice":false,"zero":false},"axis":null}}}
]},
{"width":548,"height":127.5,"data":{"name":"s7"},
"resolve":{"scale":{"y":"independent"},"axis":{"x":"independent","y":"independent"}},
"layer":[
{"transform":[{"filter":"isValid(datum.a)"}],"mark":{"type":"line","color":"#b0b0b0","strokeDash":[6,4],"strokeWidth":1.3},
"encoding":{"x":{"field":"t","type":"quantitative","scale":{"domain":[2005.8,2008.2],"nice":false,"zero":false},"axis":{"orient":"bottom","values":[2006,2007,2008],"tickSize":10,"labels":false,"domain":false,"grid":false,"title":null}},
"y":{"field":"a","type":"quantitative","scale":{"domain":[8.5,12.5],"reverse":true,"nice":false,"zero":false},"axis":{"orient":"right","values":[9,10,11,12],"tickSize":6,"labels":true,"labelPadding":4,"domain":false,"grid":false,"title":null}}}},
{"transform":[{"filter":"isValid(datum.g)"}],"mark":{"type":"line","color":"#f5a800","strokeWidth":1.5},
"encoding":{"x":{"field":"t","type":"quantitative","scale":{"domain":[2005.8,2008.2],"nice":false,"zero":false},"axis":{"orient":"top","values":[2005.8333,2005.9167,2006,2006.0833,2006.1667,2006.25,2006.3333,2006.4167,2006.5,2006.5833,2006.6667,2006.75,2006.8333,2006.9167,2007,2007.0833,2007.1667,2007.25,2007.3333,2007.4167,2007.5,2007.5833,2007.6667,2007.75,2007.8333,2007.9167,2008,2008.0833,2008.1667],"tickSize":4,"labels":false,"domain":false,"grid":false,"title":null}},
"y":{"field":"g","type":"quantitative","scale":{"domain":[315,323],"nice":false,"zero":false},"axis":null}}},
{"transform":[{"filter":"isValid(datum.r)"}],"mark":{"type":"line","color":"#e4002b","strokeWidth":1.5},
"encoding":{"x":{"field":"t","type":"quantitative","scale":{"domain":[2005.8,2008.2],"nice":false,"zero":false},"axis":{"orient":"bottom","values":[2005.8333,2005.9167,2006,2006.0833,2006.1667,2006.25,2006.3333,2006.4167,2006.5,2006.5833,2006.6667,2006.75,2006.8333,2006.9167,2007,2007.0833,2007.1667,2007.25,2007.3333,2007.4167,2007.5,2007.5833,2007.6667,2007.75,2007.8333,2007.9167,2008,2008.0833,2008.1667],"tickSize":4,"labels":false,"domain":false,"grid":false,"title":null}},
"y":{"field":"r","type":"quantitative","scale":{"domain":[315,323],"nice":false,"zero":false},"axis":{"orient":"left","values":[315,317,319,321,323],"tickSize":6,"labels":false,"domain":false,"grid":false,"title":null}}}},
{"transform":[{"filter":"isValid(datum.b)"}],"mark":{"type":"line","color":"#5757a6","strokeWidth":1.5},
"encoding":{"x":{"field":"t","type":"quantitative","scale":{"domain":[2005.8,2008.2],"nice":false,"zero":false},"axis":{"orient":"top","values":[2006,2007,2008],"tickSize":9,"labels":false,"domain":false,"grid":false,"title":null}},
"y":{"field":"b","type":"quantitative","scale":{"domain":[315,323],"nice":false,"zero":false},"axis":null}}},
{"transform":[{"filter":"isValid(datum.lo)"}],"mark":{"type":"rule","color":"black","strokeWidth":1.2},
"encoding":{"x":{"field":"t","type":"quantitative","scale":{"domain":[2005.8,2008.2],"nice":false,"zero":false},"axis":null},
"y":{"field":"lo","type":"quantitative","scale":{"domain":[315,323],"nice":false,"zero":false},"axis":null},"y2":{"field":"hi"}}},
{"transform":[{"filter":"isValid(datum.o)"}],"mark":{"type":"circle","color":"black","opacity":1,"size":48},
"encoding":{"x":{"field":"t","type":"quantitative","scale":{"domain":[2005.8,2008.2],"nice":false,"zero":false},"axis":null},
"y":{"field":"o","type":"quantitative","scale":{"domain":[315,323],"nice":false,"zero":false},"axis":null}}},
{"data":{"values":[{}]},"mark":{"type":"text","text":"7.5º S","font":"Liberation Serif","fontWeight":"bold","fontSize":22,"align":"left","baseline":"alphabetic","color":"black"},
"encoding":{"x":{"datum":2005.875,"type":"quantitative","scale":{"domain":[2005.8,2008.2],"nice":false,"zero":false},"axis":null},
"y":{"datum":315.72,"type":"quantitative","scale":{"domain":[315,323],"nice":false,"zero":false},"axis":null}}}
]},
{"width":548,"height":127.5,"data":{"name":"n3"},
"resolve":{"scale":{"y":"independent"},"axis":{"x":"independent","y":"independent"}},
"layer":[
{"transform":[{"filter":"isValid(datum.a)"}],"mark":{"type":"line","color":"#b0b0b0","strokeDash":[6,4],"strokeWidth":1.3},
"encoding":{"x":{"field":"t","type":"quantitative","scale":{"domain":[2005.8,2008.2],"nice":false,"zero":false},"axis":{"orient":"bottom","values":[2006,2007,2008],"tickSize":10,"labels":false,"domain":false,"grid":false,"title":null}},
"y":{"field":"a","type":"quantitative","scale":{"domain":[8.5,12.5],"reverse":true,"nice":false,"zero":false},"axis":{"orient":"right","values":[9,10,11,12],"tickSize":6,"labels":false,"domain":false,"grid":false,"title":null}}}},
{"transform":[{"filter":"isValid(datum.g)"}],"mark":{"type":"line","color":"#f5a800","strokeWidth":1.5},
"encoding":{"x":{"field":"t","type":"quantitative","scale":{"domain":[2005.8,2008.2],"nice":false,"zero":false},"axis":{"orient":"top","values":[2005.8333,2005.9167,2006,2006.0833,2006.1667,2006.25,2006.3333,2006.4167,2006.5,2006.5833,2006.6667,2006.75,2006.8333,2006.9167,2007,2007.0833,2007.1667,2007.25,2007.3333,2007.4167,2007.5,2007.5833,2007.6667,2007.75,2007.8333,2007.9167,2008,2008.0833,2008.1667],"tickSize":4,"labels":false,"domain":false,"grid":false,"title":null}},
"y":{"field":"g","type":"quantitative","scale":{"domain":[315,323],"nice":false,"zero":false},"axis":null}}},
{"transform":[{"filter":"isValid(datum.r)"}],"mark":{"type":"line","color":"#e4002b","strokeWidth":1.5},
"encoding":{"x":{"field":"t","type":"quantitative","scale":{"domain":[2005.8,2008.2],"nice":false,"zero":false},"axis":{"orient":"bottom","values":[2005.8333,2005.9167,2006,2006.0833,2006.1667,2006.25,2006.3333,2006.4167,2006.5,2006.5833,2006.6667,2006.75,2006.8333,2006.9167,2007,2007.0833,2007.1667,2007.25,2007.3333,2007.4167,2007.5,2007.5833,2007.6667,2007.75,2007.8333,2007.9167,2008,2008.0833,2008.1667],"tickSize":4,"labels":false,"domain":false,"grid":false,"title":null}},
"y":{"field":"r","type":"quantitative","scale":{"domain":[315,323],"nice":false,"zero":false},"axis":{"orient":"left","values":[315,317,319,321,323],"tickSize":6,"labels":true,"labelPadding":4,"domain":false,"grid":false,"title":null}}}},
{"transform":[{"filter":"isValid(datum.b)"}],"mark":{"type":"line","color":"#5757a6","strokeWidth":1.5},
"encoding":{"x":{"field":"t","type":"quantitative","scale":{"domain":[2005.8,2008.2],"nice":false,"zero":false},"axis":{"orient":"top","values":[2006,2007,2008],"tickSize":9,"labels":false,"domain":false,"grid":false,"title":null}},
"y":{"field":"b","type":"quantitative","scale":{"domain":[315,323],"nice":false,"zero":false},"axis":null}}},
{"transform":[{"filter":"isValid(datum.lo)"}],"mark":{"type":"rule","color":"black","strokeWidth":1.2},
"encoding":{"x":{"field":"t","type":"quantitative","scale":{"domain":[2005.8,2008.2],"nice":false,"zero":false},"axis":null},
"y":{"field":"lo","type":"quantitative","scale":{"domain":[315,323],"nice":false,"zero":false},"axis":null},"y2":{"field":"hi"}}},
{"transform":[{"filter":"isValid(datum.o)"}],"mark":{"type":"circle","color":"black","opacity":1,"size":48},
"encoding":{"x":{"field":"t","type":"quantitative","scale":{"domain":[2005.8,2008.2],"nice":false,"zero":false},"axis":{"orient":"bottom","values":[2006.5,2007.5],"ticks":false,"tickSize":0,"labelPadding":14,"labelFontSize":21,"labelExpr":"'' + floor(datum.value)","domain":false,"grid":false,"title":"Year","titleX":560,"titleY":35,"titleAngle":0,"titleAlign":"center","titleBaseline":"middle"}},
"y":{"field":"o","type":"quantitative","scale":{"domain":[315,323],"nice":false,"zero":false},"axis":null}}},
{"data":{"values":[{}]},"mark":{"type":"text","text":"3.8º N","font":"Liberation Serif","fontWeight":"bold","fontSize":22,"align":"left","baseline":"alphabetic","color":"black"},
"encoding":{"x":{"datum":2005.87,"type":"quantitative","scale":{"domain":[2005.8,2008.2],"nice":false,"zero":false},"axis":null},
"y":{"datum":315.72,"type":"quantitative","scale":{"domain":[315,323],"nice":false,"zero":false},"axis":null}}}
]},
{"width":548,"height":127.5,"data":{"name":"s1"},
"resolve":{"scale":{"y":"independent"},"axis":{"x":"independent","y":"independent"}},
"layer":[
{"transform":[{"filter":"isValid(datum.a)"}],"mark":{"type":"line","color":"#b0b0b0","strokeDash":[6,4],"strokeWidth":1.3},
"encoding":{"x":{"field":"t","type":"quantitative","scale":{"domain":[2005.8,2008.2],"nice":false,"zero":false},"axis":{"orient":"bottom","values":[2006,2007,2008],"tickSize":10,"labels":false,"domain":false,"grid":false,"title":null}},
"y":{"field":"a","type":"quantitative","scale":{"domain":[8.5,12.5],"reverse":true,"nice":false,"zero":false},"axis":{"orient":"right","values":[9,10,11,12],"tickSize":6,"labels":true,"labelPadding":4,"domain":false,"grid":false,"title":null}}}},
{"transform":[{"filter":"isValid(datum.g)"}],"mark":{"type":"line","color":"#f5a800","strokeWidth":1.5},
"encoding":{"x":{"field":"t","type":"quantitative","scale":{"domain":[2005.8,2008.2],"nice":false,"zero":false},"axis":{"orient":"top","values":[2005.8333,2005.9167,2006,2006.0833,2006.1667,2006.25,2006.3333,2006.4167,2006.5,2006.5833,2006.6667,2006.75,2006.8333,2006.9167,2007,2007.0833,2007.1667,2007.25,2007.3333,2007.4167,2007.5,2007.5833,2007.6667,2007.75,2007.8333,2007.9167,2008,2008.0833,2008.1667],"tickSize":4,"labels":false,"domain":false,"grid":false,"title":null}},
"y":{"field":"g","type":"quantitative","scale":{"domain":[315,323],"nice":false,"zero":false},"axis":null}}},
{"transform":[{"filter":"isValid(datum.r)"}],"mark":{"type":"line","color":"#e4002b","strokeWidth":1.5},
"encoding":{"x":{"field":"t","type":"quantitative","scale":{"domain":[2005.8,2008.2],"nice":false,"zero":false},"axis":{"orient":"bottom","values":[2005.8333,2005.9167,2006,2006.0833,2006.1667,2006.25,2006.3333,2006.4167,2006.5,2006.5833,2006.6667,2006.75,2006.8333,2006.9167,2007,2007.0833,2007.1667,2007.25,2007.3333,2007.4167,2007.5,2007.5833,2007.6667,2007.75,2007.8333,2007.9167,2008,2008.0833,2008.1667],"tickSize":4,"labels":false,"domain":false,"grid":false,"title":null}},
"y":{"field":"r","type":"quantitative","scale":{"domain":[315,323],"nice":false,"zero":false},"axis":{"orient":"left","values":[315,317,319,321,323],"tickSize":6,"labels":false,"domain":false,"grid":false,"title":null}}}},
{"transform":[{"filter":"isValid(datum.b)"}],"mark":{"type":"line","color":"#5757a6","strokeWidth":1.5},
"encoding":{"x":{"field":"t","type":"quantitative","scale":{"domain":[2005.8,2008.2],"nice":false,"zero":false},"axis":{"orient":"top","values":[2006,2007,2008],"tickSize":9,"labels":false,"domain":false,"grid":false,"title":null}},
"y":{"field":"b","type":"quantitative","scale":{"domain":[315,323],"nice":false,"zero":false},"axis":null}}},
{"transform":[{"filter":"isValid(datum.lo)"}],"mark":{"type":"rule","color":"black","strokeWidth":1.2},
"encoding":{"x":{"field":"t","type":"quantitative","scale":{"domain":[2005.8,2008.2],"nice":false,"zero":false},"axis":null},
"y":{"field":"lo","type":"quantitative","scale":{"domain":[315,323],"nice":false,"zero":false},"axis":null},"y2":{"field":"hi"}}},
{"transform":[{"filter":"isValid(datum.o)"}],"mark":{"type":"circle","color":"black","opacity":1,"size":48},
"encoding":{"x":{"field":"t","type":"quantitative","scale":{"domain":[2005.8,2008.2],"nice":false,"zero":false},"axis":{"orient":"bottom","values":[2006.5,2007.5],"ticks":false,"tickSize":0,"labelPadding":14,"labelFontSize":21,"labelExpr":"'' + floor(datum.value)","domain":false,"grid":false,"title":null}},
"y":{"field":"o","type":"quantitative","scale":{"domain":[315,323],"nice":false,"zero":false},"axis":null}}},
{"data":{"values":[{}]},"mark":{"type":"text","text":"1.8º S","font":"Liberation Serif","fontWeight":"bold","fontSize":22,"align":"left","baseline":"alphabetic","color":"black"},
"encoding":{"x":{"datum":2005.875,"type":"quantitative","scale":{"domain":[2005.8,2008.2],"nice":false,"zero":false},"axis":null},
"y":{"datum":315.72,"type":"quantitative","scale":{"domain":[315,323],"nice":false,"zero":false},"axis":null}}}
]}
]
}
